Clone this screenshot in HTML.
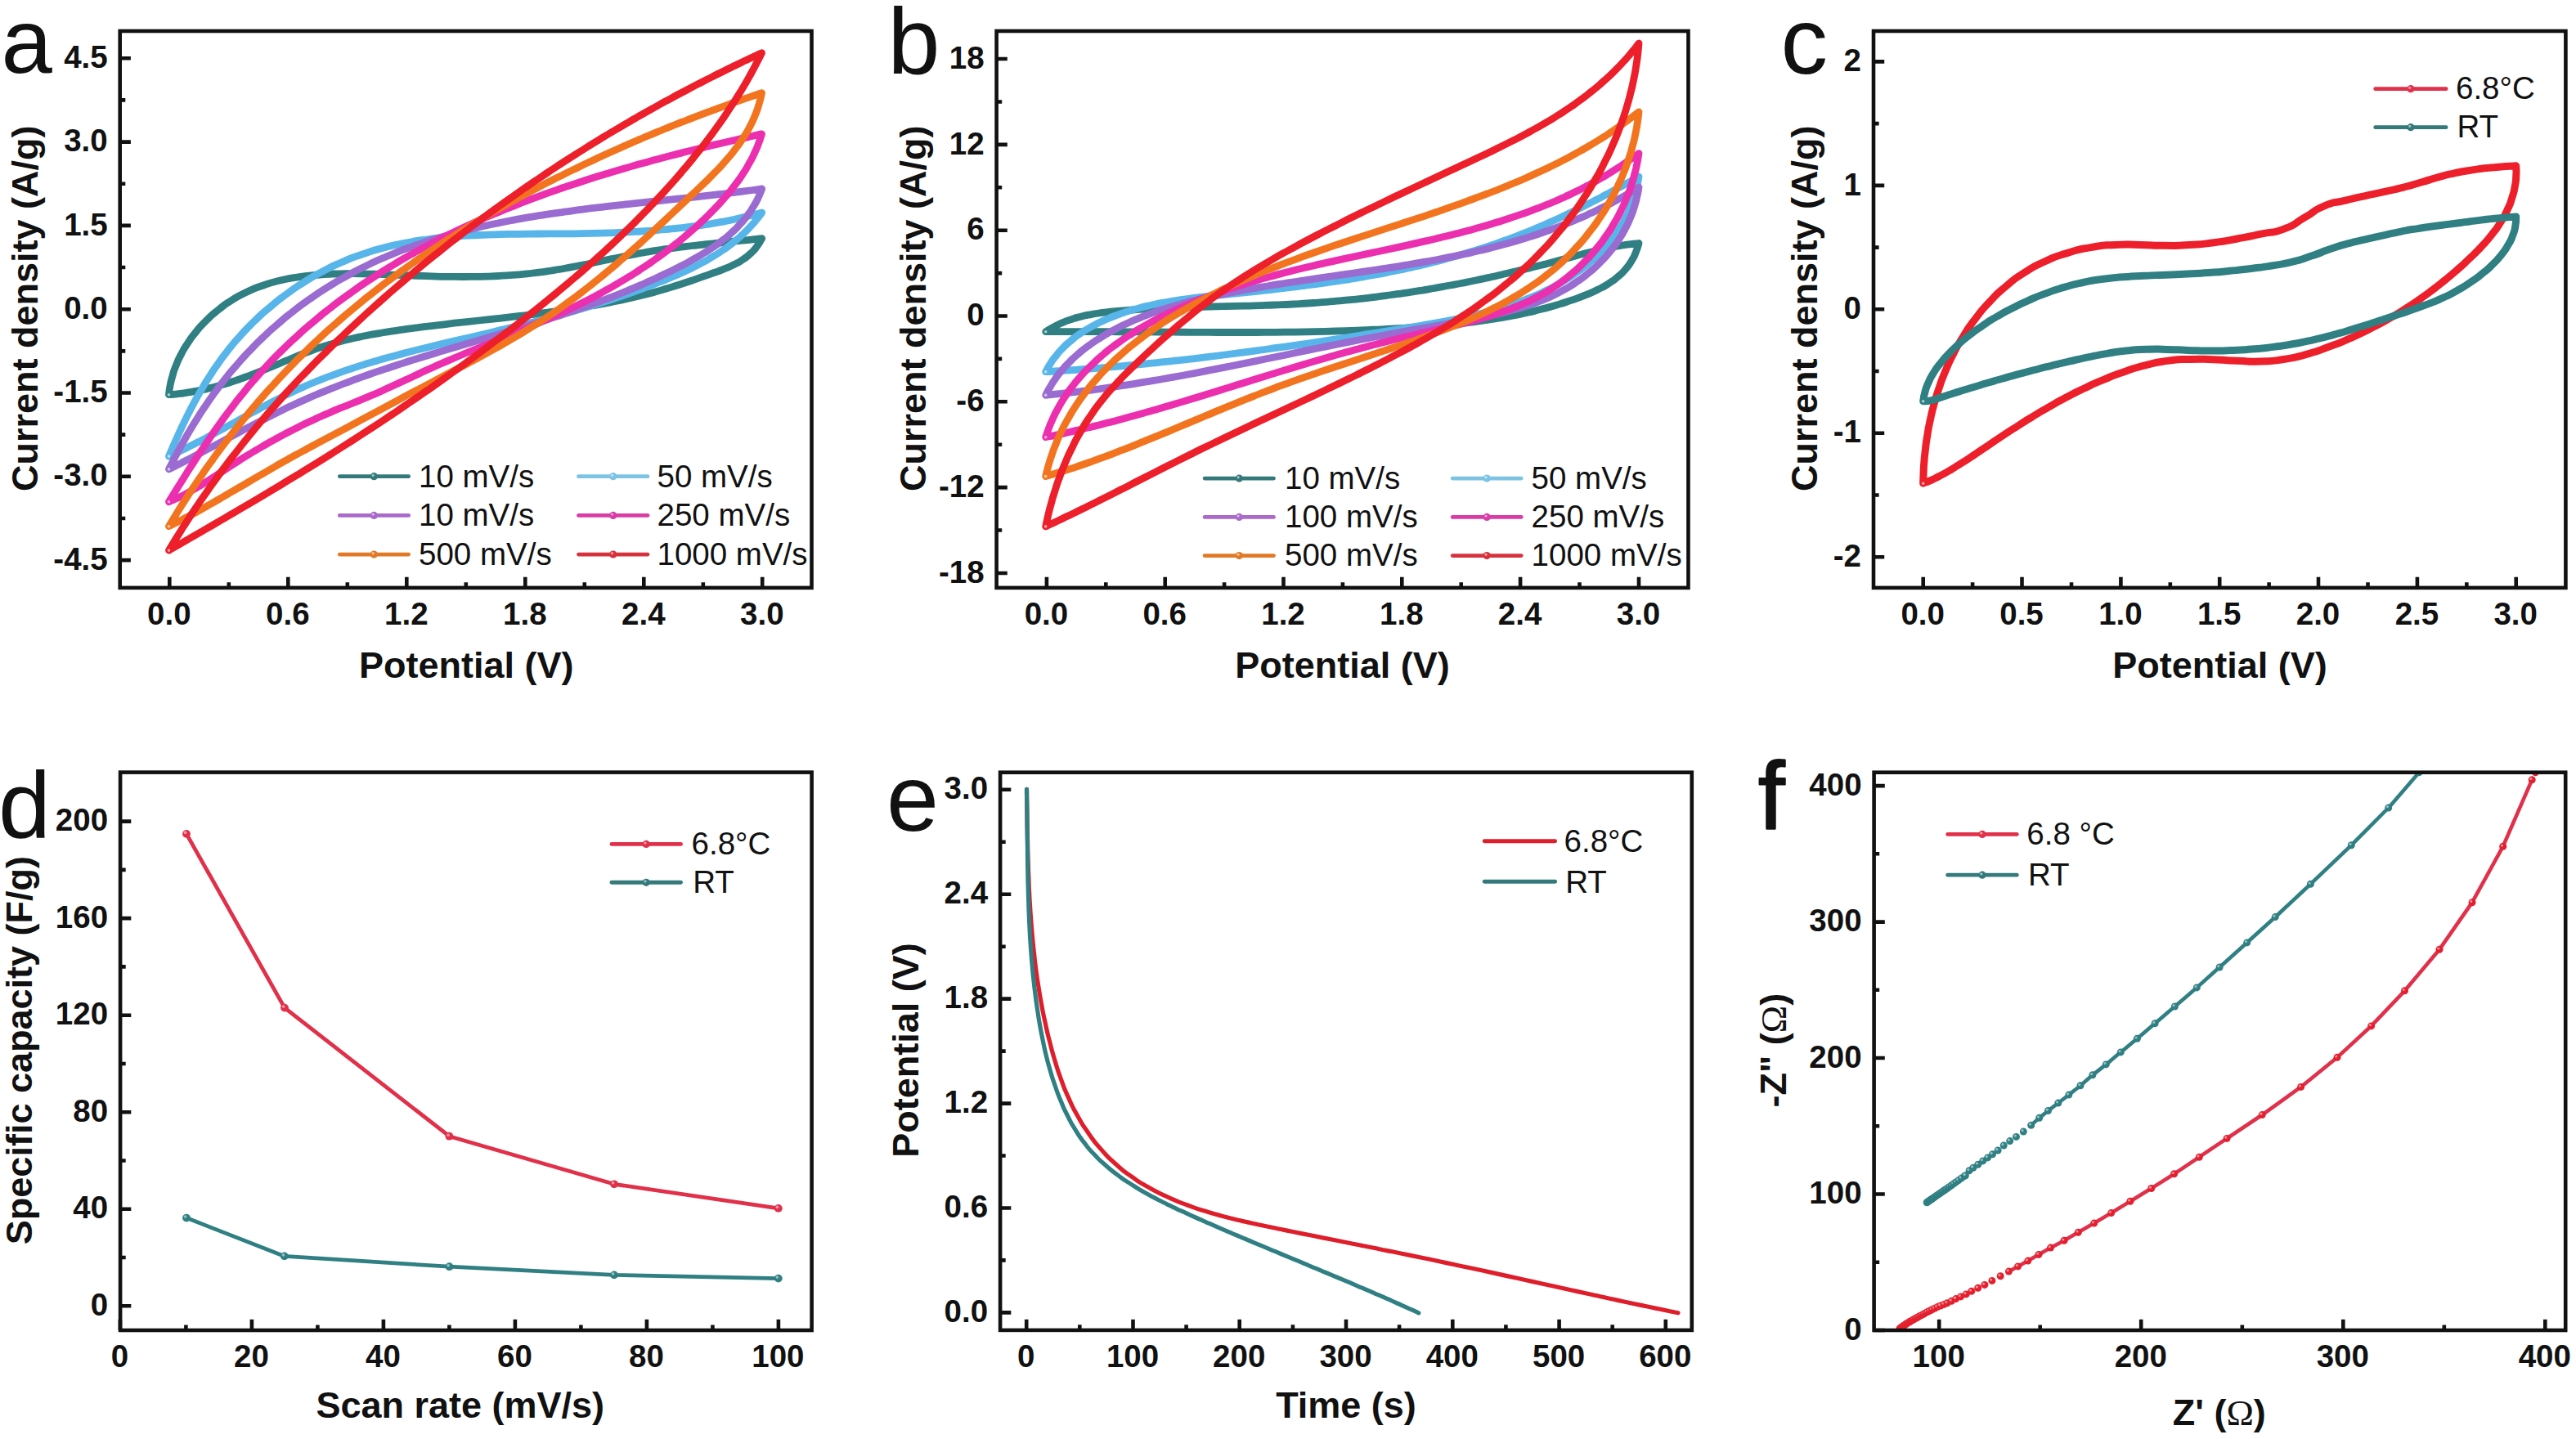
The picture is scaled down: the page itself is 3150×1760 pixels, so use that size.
<!DOCTYPE html>
<html lang="en"><head><meta charset="utf-8"><title>Figure: electrochemical performance (CV, capacity, discharge, EIS)</title><style>html,body{margin:0;padding:0;background:#fff}svg{display:block}</style></head><body>
<svg xmlns="http://www.w3.org/2000/svg" width="3150" height="1760" viewBox="0 0 3150 1760">
<rect width="3150" height="1760" fill="#fff"/>
<g id="panel-a">
<clipPath id="clip-a"><rect x="146.7" y="38" width="845.8" height="680.9"/></clipPath>
<g fill="none" stroke-linejoin="round" stroke-linecap="round" stroke-width="8.8" clip-path="url(#clip-a)">
<path d="M206.5,482.7C207,479.1 206.6,479.4 208,471.8C209.5,464.2 208.5,468.1 210.9,459.9C213.3,451.6 211.7,455.8 215.2,447.1C218.8,438.3 216.6,442.7 221.4,433.6C226.2,424.4 223.4,429 229.6,419.6C235.8,410.3 232.3,414.9 239.9,405.6C247.5,396.4 243.4,400.8 252.4,391.9C261.5,383 256.6,387.1 267.1,378.9C277.5,370.6 272,374.4 283.7,367.1C295.4,359.8 289.3,363.1 302.1,357C314.9,351 308.3,353.7 322.2,349C336,344.2 328.9,346.3 343.7,342.8C358.6,339.4 351,340.8 366.7,338.6C382.5,336.3 374.5,337.2 391,336C407.5,334.7 399.1,335.2 416.2,334.9C433.3,334.5 424.7,334.6 442.3,334.9C459.8,335.1 451,335 468.8,335.6C486.6,336.2 477.8,336 495.6,336.7C513.4,337.4 504.6,337.1 522.3,337.7C540.1,338.2 531.3,338.1 548.9,338.3C566.5,338.6 557.8,338.6 575.2,338.4C592.7,338.3 584,338.5 601.2,337.8C618.4,337.2 609.9,337.7 626.8,336.4C643.8,335.2 635.4,336 652,334C668.6,332.1 660.4,333.2 676.6,330.6C692.8,328.1 684.8,329.3 700.6,326.4C716.4,323.4 708.7,324.8 724,321.7C739.4,318.5 731.8,320 746.7,316.9C761.5,313.9 754.3,315.3 768.6,312.5C782.9,309.7 775.9,310.9 789.6,308.5C803.3,306.2 796.6,307.3 809.7,305.3C822.8,303.4 816.4,304.3 828.9,302.7C841.3,301.1 835.3,301.9 847,300.5C858.7,299.2 853.1,299.8 864.1,298.7C875.1,297.5 869.8,298.1 880,297C890.2,296 885.3,296.5 894.8,295.5C904.2,294.6 899.7,295 908.3,294.1C917,293.2 912.9,293.7 920.6,292.8C928.4,292 928,292 931.7,291.6C929.7,294.8 930.4,295 925.8,301.1C921.3,307.1 923.9,304.3 918.1,309.8C912.3,315.2 915.5,312.6 908.4,317.4C901.3,322.1 905.1,319.8 896.7,324C888.3,328.1 892.7,326 883.2,329.8C873.6,333.6 878.6,331.6 868.1,335.4C857.7,339.1 863.1,337.3 851.8,341.1C840.5,345 846.4,343.1 834.3,347C822.3,350.9 828.5,349 815.7,352.8C802.9,356.6 809.4,354.8 796,358.4C782.5,361.9 789.4,360.2 775.3,363.5C761.2,366.9 768.4,365.3 753.7,368.3C739,371.3 746.5,369.9 731.3,372.6C716.1,375.4 723.8,374.1 708.1,376.6C692.5,379.1 700.4,377.9 684.4,380.2C668.4,382.4 676.4,381.3 660.1,383.4C643.8,385.5 652,384.5 635.5,386.4C619,388.4 627.2,387.4 610.6,389.3C594,391.1 602.3,390.2 585.6,392C569,393.8 577.3,392.9 560.7,394.7C544.1,396.6 552.3,395.6 535.9,397.6C519.5,399.5 527.6,398.5 511.4,400.6C495.2,402.7 503.2,401.6 487.3,403.9C471.5,406.2 479.3,404.9 463.8,407.6C448.3,410.3 455.9,408.7 440.8,411.9C425.7,415.1 433.2,413.3 418.5,417.1C403.9,420.9 411.1,418.8 396.9,423.3C382.7,427.8 389.6,425.5 376,430.6C362.3,435.7 369,433.3 355.8,438.7C342.7,444 349.1,441.5 336.5,446.7C323.9,451.9 330,449.5 318,454.3C306,459.1 311.9,456.9 300.5,461C289.1,465.2 294.6,463.3 283.9,466.8C273.2,470.3 278.3,468.7 268.3,471.5C258.2,474.4 263.1,473.1 253.7,475.4C244.4,477.6 248.9,476.6 240.2,478.3C231.6,480 235.7,479.2 227.8,480.4C220,481.6 223.7,481.1 216.6,481.8C209.5,482.6 209.9,482.4 206.5,482.7Z" stroke="#2f7f83"/>
<path d="M206.5,558.1C208,554.6 207.8,554.9 211,547.5C214.3,540 212.5,543.9 216.3,535.6C220,527.3 218,531.6 222.2,522.6C226.5,513.6 224.2,518.3 229,508.6C233.9,498.9 231.2,503.9 236.7,493.6C242.3,483.4 239.3,488.6 245.6,477.8C251.8,467.1 248.4,472.5 255.6,461.3C262.7,450.2 258.8,455.8 267,444.4C275.1,433 270.7,438.6 279.9,427.1C289.2,415.6 284.2,421.3 294.7,409.8C305.1,398.3 299.6,403.9 311.2,392.7C322.8,381.5 316.8,386.9 329.6,376.1C342.3,365.3 335.7,370.5 349.6,360.3C363.5,350.1 356.3,354.9 371.2,345.5C386.1,336.1 378.5,340.5 394.2,332.1C410,323.8 402,327.6 418.4,320.5C434.9,313.3 426.5,316.6 443.6,310.8C460.6,305 452,307.6 469.5,303C487,298.5 478.2,300.5 496.1,297.1C514,293.7 505,295.2 523.1,292.8C541.3,290.3 532.2,291.4 550.5,289.8C568.8,288.1 559.7,288.9 578,287.9C596.3,286.9 587.2,287.3 605.4,286.8C623.7,286.2 614.7,286.5 632.7,286.3C650.8,286 641.9,286.2 659.6,286C677.4,285.9 668.6,286 686,285.9C703.3,285.7 694.8,285.9 711.7,285.6C728.6,285.3 720.3,285.5 736.6,285.1C752.9,284.6 744.9,284.9 760.5,284.2C776.2,283.5 768.6,283.9 783.5,283C798.3,282 791.1,282.6 805.2,281.4C819.3,280.2 812.5,280.9 825.8,279.5C839,278.1 832.6,278.8 845,277.2C857.4,275.6 851.5,276.4 862.9,274.7C874.4,272.9 868.9,273.8 879.5,271.9C890.1,270 885,270.9 894.6,269C904.3,267 899.7,268 908.4,265.9C917.1,263.9 913,264.9 920.7,262.9C928.5,261 928,261 931.7,260C929.5,262.9 929.9,262.8 925,268.7C920.2,274.6 922.9,271.6 917.1,277.7C911.3,283.8 914.5,280.8 907.8,287C901,293.2 904.7,290.1 896.9,296.3C889.1,302.5 893.3,299.4 884.5,305.5C875.6,311.6 880.3,308.6 870.4,314.6C860.6,320.5 865.7,317.6 854.8,323.3C843.9,329 849.6,326.2 837.7,331.7C825.8,337.2 831.9,334.5 819.2,339.9C806.4,345.2 812.9,342.5 799.4,347.8C785.9,353 792.8,350.4 778.6,355.6C764.4,360.7 771.7,358.2 756.9,363.1C742.1,368.1 749.6,365.7 734.2,370.5C718.9,375.4 726.6,373 710.8,377.7C695,382.4 702.9,380 686.7,384.6C670.5,389.1 678.6,386.9 662.1,391.2C645.5,395.6 653.8,393.4 637,397.7C620.2,401.9 628.6,399.8 611.6,403.9C594.6,408 603.1,406 586.1,410C569.1,414 577.5,411.9 560.5,415.9C543.5,419.9 552,417.9 535.1,421.9C518.2,426 526.6,423.9 509.9,428C493.3,432.2 501.5,430.1 485.1,434.4C468.8,438.8 476.8,436.5 460.9,441.2C444.9,445.8 452.7,443.4 437.2,448.4C421.7,453.4 429.3,450.8 414.3,456.1C399.3,461.4 406.7,458.7 392.3,464.4C377.9,470.1 384.9,467.1 371.1,473.2C357.4,479.2 364.1,476.2 351,482.5C337.9,488.8 344.3,485.7 331.9,492.1C319.5,498.6 325.5,495.4 313.8,501.8C302.1,508.1 307.8,505 296.7,511.1C285.7,517.2 291,514.3 280.7,520C270.3,525.7 275.3,523 265.6,528.2C256,533.5 260.6,531 251.7,535.8C242.7,540.5 247,538.3 238.7,542.5C230.5,546.8 234.4,544.8 226.9,548.5C219.4,552.2 222.9,550.5 216.1,553.7C209.3,556.9 209.7,556.6 206.5,558.1Z" stroke="#57b5ea"/>
<path d="M206.5,573.9C208.3,570.4 208,570.8 211.8,563.4C215.6,556.1 213.6,559.9 217.9,551.8C222.3,543.8 219.9,547.9 224.9,539.2C229.8,530.5 227.2,535 232.7,525.6C238.3,516.2 235.3,521 241.6,511.1C247.9,501.2 244.5,506.3 251.6,495.9C258.6,485.5 254.9,490.8 262.7,480C270.6,469.3 266.4,474.7 275.1,463.7C283.8,452.7 279.2,458.2 288.9,447.1C298.5,435.9 293.4,441.4 304.1,430.3C314.7,419.1 309.1,424.6 320.7,413.5C332.4,402.4 326.3,407.8 338.9,397C351.4,386.1 345,391.4 358.4,380.9C371.9,370.3 365,375.4 379.3,365.4C393.7,355.3 386.3,360.2 401.4,350.7C416.6,341.3 408.9,345.8 424.7,337.1C440.5,328.4 432.4,332.5 448.8,324.6C465.2,316.7 456.9,320.4 473.8,313.3C490.7,306.2 482.2,309.6 499.5,303.2C516.8,296.9 508.1,299.9 525.7,294.3C543.4,288.6 534.5,291.3 552.4,286.4C570.2,281.4 561.3,283.8 579.2,279.5C597.1,275.2 588.2,277.2 606,273.5C623.9,269.7 615.1,271.5 632.8,268.2C650.5,265 641.8,266.5 659.3,263.7C676.8,260.9 668.1,262.2 685.3,259.8C702.4,257.3 694,258.5 710.7,256.3C727.4,254.2 719.2,255.2 735.4,253.3C751.6,251.4 743.7,252.3 759.3,250.6C774.8,248.8 767.2,249.7 782.1,248.1C797,246.5 789.8,247.3 803.9,245.8C818,244.3 811.2,245 824.5,243.6C837.8,242.2 831.4,242.9 843.9,241.6C856.3,240.2 850.3,240.9 861.9,239.6C873.5,238.3 868,238.9 878.7,237.7C889.3,236.4 884.2,237.1 894,235.9C903.8,234.7 899.1,235.2 908,234.1C916.8,233 912.6,233.5 920.5,232.5C928.4,231.4 928,231.4 931.7,230.9C930.3,234.4 930.8,234.2 927.4,241.3C924,248.3 926,244.8 921.6,252.1C917.2,259.4 919.8,255.8 914.2,263.2C908.6,270.6 911.8,266.9 904.9,274.3C898.1,281.7 901.8,278.1 893.7,285.4C885.5,292.7 889.9,289.1 880.4,296.2C871,303.3 876,299.8 865.2,306.7C854.5,313.6 860.1,310.2 848.2,316.9C836.4,323.6 842.5,320.3 829.7,326.9C816.9,333.4 823.4,330.2 809.9,336.6C796.4,343.1 803.3,339.9 789,346.2C774.8,352.5 782,349.4 767.1,355.5C752.2,361.7 759.8,358.6 744.3,364.6C728.8,370.5 736.7,367.6 720.7,373.3C704.7,379.1 712.8,376.3 696.4,381.8C679.9,387.4 688.2,384.6 671.5,390C654.7,395.4 663.1,392.8 646.1,398C629.1,403.3 637.6,400.7 620.5,405.8C603.4,411 611.9,408.4 594.7,413.5C577.6,418.5 586.1,416 569,421C551.9,426.1 560.4,423.5 543.4,428.6C526.4,433.7 534.8,431.1 518,436.3C501.2,441.4 509.5,438.8 493,444.1C476.5,449.4 484.6,446.7 468.5,452.1C452.3,457.5 460.2,454.8 444.5,460.4C428.7,466 436.4,463.2 421.1,469C405.8,474.8 413.3,471.8 398.5,477.9C383.7,483.9 391,480.9 376.7,487.1C362.5,493.4 369.4,490.2 355.8,496.6C342.2,503 348.9,499.9 335.9,506.3C323,512.7 329.2,509.6 317,515.9C304.7,522.2 310.7,519.2 299.1,525.2C287.6,531.3 293.2,528.4 282.4,534.1C271.6,539.9 276.8,537.1 266.8,542.5C256.8,547.8 261.6,545.3 252.3,550.2C243.1,555.1 247.5,552.8 239.1,557.2C230.7,561.6 234.7,559.5 227,563.5C219.4,567.4 223,565.6 216.2,569.1C209.3,572.5 209.7,572.3 206.5,573.9Z" stroke="#9a6bd0"/>
<path d="M206.5,613.8C208.6,610.3 208.4,610.7 212.9,603.4C217.5,596 215.1,599.9 220.1,591.8C225.2,583.7 222.5,587.9 228.1,579C233.7,570.2 230.8,574.8 236.9,565.3C243.1,555.7 239.9,560.6 246.6,550.5C253.3,540.3 249.8,545.5 257.2,534.8C264.5,524 260.7,529.5 268.7,518.3C276.8,507.1 272.6,512.7 281.4,501.1C290.2,489.5 285.5,495.4 295.1,483.5C304.8,471.6 299.7,477.5 310.2,465.4C320.6,453.4 315.2,459.4 326.5,447.2C337.9,435.1 332,441.1 344.3,429C356.6,416.9 350.2,422.9 363.4,410.9C376.6,398.9 369.8,404.8 383.8,393.1C397.8,381.3 390.6,387.1 405.4,375.6C420.1,364.2 412.6,369.8 428,358.8C443.4,347.7 435.6,353.1 451.5,342.5C467.5,332 459.4,337.1 475.8,327C492.3,317 484,321.9 500.8,312.3C517.7,302.8 509.2,307.4 526.4,298.4C543.5,289.4 534.9,293.7 552.3,285.3C569.7,276.8 561,280.9 578.5,273C596,265 587.3,268.9 604.8,261.5C622.3,254.1 613.6,257.6 631,250.8C648.4,243.9 639.8,247.2 657,240.8C674.2,234.5 665.7,237.5 682.7,231.6C699.6,225.7 691.3,228.6 707.8,223.2C724.4,217.7 716.2,220.3 732.3,215.3C748.4,210.3 740.5,212.8 756.1,208.2C771.6,203.6 764,205.8 779,201.6C793.9,197.4 786.6,199.4 800.8,195.6C815.1,191.7 808.2,193.6 821.6,190.1C835.1,186.6 828.6,188.3 841.3,185.1C853.9,181.9 847.8,183.4 859.7,180.5C871.5,177.6 865.8,179 876.8,176.4C887.7,173.8 882.5,175.1 892.5,172.7C902.6,170.4 897.8,171.5 906.9,169.4C916,167.3 911.7,168.3 919.9,166.5C928.1,164.6 927.6,164.8 931.5,163.9C930.3,167.6 930.7,167.3 927.8,174.9C924.9,182.6 926.6,178.6 922.8,186.9C918.9,195.2 921.2,190.9 916.2,199.7C911.3,208.5 914.1,204 908,213.3C901.9,222.5 905.2,217.8 897.9,227.4C890.6,236.9 894.6,232.1 886.1,241.9C877.6,251.7 882,246.8 872.4,256.7C862.8,266.6 867.9,261.7 857.2,271.7C846.6,281.6 852.2,276.7 840.6,286.6C829,296.5 835,291.6 822.4,301.4C809.9,311.2 816.4,306.4 802.9,316C789.4,325.6 796.4,320.9 782,330.3C767.7,339.6 775,335 759.9,344C744.8,353.1 752.5,348.7 736.7,357.3C720.9,366 728.9,361.8 712.5,370.1C696.1,378.4 704.4,374.3 687.5,382.2C670.6,390.1 679.1,386.2 661.9,393.8C644.7,401.3 653.3,397.5 635.8,404.9C618.3,412.2 627.1,408.5 609.5,415.7C591.8,422.9 600.6,419.2 582.9,426.5C565.2,433.8 574,430 556.4,437.5C538.8,445 547.5,441.2 530,449C512.6,456.7 521.2,452.9 504,460.9C486.7,468.8 495.2,465.1 478.4,472.8C461.5,480.4 469.8,476.9 453.3,483.9C436.9,491 444.9,487.4 429,494C413.1,500.6 420.9,497.1 405.5,503.6C390.2,510.2 397.7,506.8 383,513.7C368.2,520.5 375.4,517.1 361.4,524.1C347.3,531.2 354.2,527.6 340.8,534.9C327.4,542.1 333.9,538.5 321.3,545.8C308.6,553.1 314.8,549.5 302.8,556.8C290.9,564.1 296.7,560.6 285.5,567.7C274.4,574.9 279.8,571.5 269.4,578.3C259,585 264,581.9 254.4,587.9C244.8,594 249.4,591.2 240.6,596.4C231.8,601.6 236,599.2 228,603.6C220,607.9 223.8,605.9 216.6,609.3C209.5,612.7 209.9,612.3 206.5,613.8Z" stroke="#ec2fae"/>
<path d="M206.5,643.7C208.7,640.1 208.4,640.5 213,632.9C217.7,625.3 215.2,629.3 220.4,620.9C225.7,612.5 222.9,616.9 228.8,607.8C234.7,598.7 231.6,603.4 238.1,593.6C244.7,583.8 241.2,588.8 248.5,578.4C255.7,568 251.9,573.3 259.9,562.3C267.8,551.3 263.7,556.9 272.3,545.4C281,533.8 276.5,539.7 285.9,527.7C295.3,515.7 290.4,521.8 300.6,509.5C310.8,497.1 305.5,503.3 316.4,490.7C327.4,478.1 321.7,484.4 333.4,471.6C345.1,458.8 339.1,465.2 351.5,452.3C364,439.4 357.6,445.8 370.7,432.8C383.9,419.9 377.2,426.3 391,413.4C404.9,400.6 397.8,406.9 412.3,394.2C426.8,381.5 419.4,387.8 434.5,375.3C449.6,362.8 442,368.9 457.6,356.7C473.2,344.5 465.3,350.5 481.4,338.6C497.5,326.7 489.4,332.5 505.9,321C522.4,309.5 514.1,315.1 530.9,304C547.7,292.8 539.3,298.3 556.3,287.6C573.3,276.9 564.8,282.1 581.9,271.8C599,261.6 590.5,266.6 607.6,256.8C624.8,247 616.3,251.8 633.4,242.4C650.4,233.1 642,237.6 658.9,228.8C675.8,219.9 667.4,224.2 684.1,215.9C700.8,207.5 692.5,211.6 708.9,203.7C725.2,195.9 717.1,199.7 733,192.3C748.9,185 741.1,188.5 756.5,181.7C771.8,174.8 764.3,178.1 779.1,171.8C793.9,165.4 786.7,168.5 800.8,162.6C814.9,156.8 808.1,159.6 821.5,154.2C834.9,148.8 828.4,151.4 841,146.5C853.7,141.5 847.6,143.9 859.4,139.4C871.2,135 865.5,137.1 876.5,133.1C887.4,129 882.2,130.9 892.3,127.3C902.4,123.7 897.5,125.4 906.7,122.2C915.9,119 911.5,120.5 919.8,117.7C928.1,114.8 927.6,115 931.5,113.7C930.5,117.9 930.9,117.7 928.4,126.4C925.8,135.1 927.4,130.7 923.8,139.8C920.1,148.9 922.3,144.3 917.5,153.7C912.6,163.1 915.4,158.3 909.3,167.9C903.1,177.5 906.5,172.7 899.1,182.4C891.6,192.2 895.6,187.3 886.8,197.3C878.1,207.2 882.7,202.2 872.7,212.4C862.8,222.6 867.9,217.4 857,227.9C846.1,238.5 851.6,233 840,244C828.3,255 834.3,249.4 822.1,260.9C809.9,272.3 816.1,266.6 803.4,278.4C790.6,290.2 797.1,284.3 783.8,296.4C770.4,308.5 777.3,302.4 763.3,314.6C749.3,326.8 756.5,320.8 741.8,333C727.2,345.1 734.7,339.2 719.4,351.1C704.1,363.1 711.9,357.3 696,368.9C680.1,380.5 688.1,374.9 671.7,386C655.3,397 663.6,391.6 646.7,402.1C629.8,412.6 638.2,407.5 621,417.5C603.7,427.4 612.4,422.5 594.9,432.1C577.4,441.7 586.1,436.9 568.5,446.3C550.9,455.6 559.6,450.9 542,460.2C524.4,469.5 533.1,464.8 515.7,474.1C498.2,483.3 506.8,478.7 489.6,487.9C472.5,497.1 480.9,492.6 464.1,501.6C447.3,510.6 455.5,506.2 439.2,514.9C422.9,523.7 430.9,519.4 415.1,527.8C399.4,536.2 407,532.1 391.9,540.2C376.8,548.2 384.2,544.2 369.8,552C355.4,559.9 362.4,556 348.6,563.7C334.9,571.4 341.6,567.7 328.5,575.2C315.4,582.7 321.8,579.1 309.4,586.3C297,593.6 303,590.1 291.3,596.9C279.6,603.8 285.3,600.5 274.3,606.8C263.4,613.2 268.7,610.2 258.4,616C248.2,621.8 253.1,619 243.7,624.3C234.2,629.5 238.7,627 230.1,631.6C221.4,636.3 225.5,634.1 217.7,638.1C209.8,642.1 210.2,641.8 206.5,643.7Z" stroke="#f3741f"/>
<path d="M206.5,673.1C208.8,669.3 208.5,669.7 213.3,661.8C218.2,653.9 215.6,658 221.1,649.3C226.6,640.6 223.7,645.1 229.9,635.6C236.1,626.1 232.8,631 239.7,620.8C246.5,610.6 242.9,615.9 250.5,605C258,594.1 254.1,599.7 262.4,588.2C270.7,576.7 266.3,582.6 275.3,570.5C284.4,558.5 279.7,564.6 289.5,552.1C299.3,539.6 294.2,545.9 304.7,533C315.3,520.1 309.8,526.6 321.1,513.3C332.4,500.1 326.6,506.7 338.7,493.2C350.7,479.7 344.5,486.5 357.3,472.8C370.1,459.1 363.6,466 377.1,452.1C390.5,438.3 383.7,445.2 397.8,431.3C411.9,417.4 404.7,424.3 419.4,410.4C434,396.4 426.6,403.4 441.7,389.5C456.9,375.5 449.2,382.5 464.8,368.6C480.4,354.8 472.5,361.7 488.5,348C504.4,334.3 496.4,341.1 512.6,327.7C528.9,314.2 520.7,320.8 537.2,307.7C553.7,294.5 545.4,301 562.1,288.2C578.7,275.3 570.4,281.6 587.1,269.2C603.8,256.7 595.5,262.8 612.2,250.8C628.9,238.8 620.6,244.7 637.3,233.1C653.9,221.5 645.7,227.2 662.2,216.1C678.6,205 670.5,210.4 686.7,199.8C703,189.3 695,194.4 710.9,184.4C726.8,174.3 719,179.2 734.5,169.7C750,160.3 742.4,164.9 757.5,156C772.6,147.1 765.2,151.4 779.7,143C794.2,134.7 787.1,138.7 801.1,131C815,123.2 808.2,127 821.5,119.8C834.7,112.6 828.3,116.1 840.9,109.5C853.4,102.8 847.3,106 859.1,100C870.9,93.9 865.2,96.8 876.2,91.3C887.1,85.8 881.9,88.4 892,83.5C902.1,78.5 897.3,80.9 906.5,76.5C915.7,72 911.3,74.1 919.7,70.2C928,66.3 927.6,66.5 931.5,64.7C929.5,68.6 929.8,68.2 925.5,76.5C921.2,84.8 923.6,80.5 918.6,89.5C913.6,98.5 916.3,93.8 910.6,103.6C904.9,113.3 908,108.3 901.5,118.6C895,129 898.4,123.7 891.1,134.6C883.8,145.6 887.7,140 879.6,151.5C871.4,163 875.7,157.1 866.7,169.1C857.7,181 862.4,175 852.5,187.3C842.6,199.7 847.8,193.5 837,206.2C826.2,219 831.8,212.5 820.2,225.6C808.5,238.6 814.5,232.1 802,245.4C789.6,258.6 796,252 782.7,265.4C769.4,278.8 776.2,272.1 762.2,285.6C748.2,299.1 755.3,292.4 740.7,305.9C726,319.4 733.5,312.7 718.2,326.1C703,339.5 710.7,332.8 695,346.1C679.3,359.4 687.2,352.8 671.1,365.9C655.1,379 663.2,372.5 646.8,385.4C630.4,398.4 638.6,391.9 622,404.7C605.3,417.5 613.6,411.1 596.8,423.7C580,436.3 588.4,430.1 571.5,442.5C554.6,454.8 563,448.7 546.1,460.8C529.2,472.9 537.6,467 520.8,478.7C503.9,490.5 512.3,484.7 495.5,496C478.8,507.4 487.1,501.8 470.6,512.8C454.1,523.8 462.3,518.4 446.1,528.9C429.9,539.5 437.8,534.3 422,544.4C406.2,554.5 414,549.6 398.6,559.2C383.2,568.8 390.8,564.1 375.9,573.3C361,582.4 368.3,578 354,586.6C339.7,595.3 346.7,591.1 333.1,599.3C319.4,607.5 326,603.5 313.1,611.2C300.1,618.9 306.4,615.2 294.2,622.3C282,629.5 287.9,626.1 276.4,632.7C265,639.4 270.5,636.2 259.9,642.4C249.3,648.5 254.4,645.6 244.6,651.2C234.8,656.9 239.5,654.2 230.6,659.3C221.7,664.4 225.9,662 217.9,666.6C209.8,671.2 210.3,670.9 206.5,673.1Z" stroke="#ed1f2a"/>
</g>
<circle cx="206.5" cy="482.7" r="1.8" fill="#fff" fill-opacity="0.6"/>
<circle cx="206.5" cy="558.1" r="1.8" fill="#fff" fill-opacity="0.6"/>
<circle cx="206.5" cy="573.9" r="1.8" fill="#fff" fill-opacity="0.6"/>
<circle cx="206.5" cy="613.8" r="1.8" fill="#fff" fill-opacity="0.6"/>
<circle cx="206.5" cy="643.7" r="1.8" fill="#fff" fill-opacity="0.6"/>
<circle cx="206.5" cy="673.1" r="1.8" fill="#fff" fill-opacity="0.6"/>
<path d="M415.3,582.7 H499.6" stroke="#347a7a" stroke-width="4.8" stroke-linecap="round" fill="none"/>
<circle cx="457.4" cy="582.7" r="4.6" fill="#347a7a"/>
<circle cx="456.2" cy="581.3" r="1.6" fill="#fff" fill-opacity="0.55"/>
<text x="512" y="595.6" font-family="'Liberation Sans', Arial, Helvetica, sans-serif" font-size="38.5" fill="#111">10 mV/s</text>
<path d="M707.5,582.7 H792" stroke="#7dc3e3" stroke-width="4.8" stroke-linecap="round" fill="none"/>
<circle cx="749.8" cy="582.7" r="4.6" fill="#7dc3e3"/>
<circle cx="748.5" cy="581.3" r="1.6" fill="#fff" fill-opacity="0.55"/>
<text x="803.5" y="595.6" font-family="'Liberation Sans', Arial, Helvetica, sans-serif" font-size="38.5" fill="#111">50 mV/s</text>
<path d="M415.3,630.4 H499.6" stroke="#a96aca" stroke-width="4.8" stroke-linecap="round" fill="none"/>
<circle cx="457.4" cy="630.4" r="4.6" fill="#a96aca"/>
<circle cx="456.2" cy="629" r="1.6" fill="#fff" fill-opacity="0.55"/>
<text x="512" y="643.4" font-family="'Liberation Sans', Arial, Helvetica, sans-serif" font-size="38.5" fill="#111">10 mV/s</text>
<path d="M707.5,630.4 H792" stroke="#da3ca6" stroke-width="4.8" stroke-linecap="round" fill="none"/>
<circle cx="749.8" cy="630.4" r="4.6" fill="#da3ca6"/>
<circle cx="748.5" cy="629" r="1.6" fill="#fff" fill-opacity="0.55"/>
<text x="803.5" y="643.4" font-family="'Liberation Sans', Arial, Helvetica, sans-serif" font-size="38.5" fill="#111">250 mV/s</text>
<path d="M415.3,678.1 H499.6" stroke="#e27926" stroke-width="4.8" stroke-linecap="round" fill="none"/>
<circle cx="457.4" cy="678.1" r="4.6" fill="#e27926"/>
<circle cx="456.2" cy="676.7" r="1.6" fill="#fff" fill-opacity="0.55"/>
<text x="512" y="690.9" font-family="'Liberation Sans', Arial, Helvetica, sans-serif" font-size="38.5" fill="#111">500 mV/s</text>
<path d="M707.5,678.1 H792" stroke="#d7323c" stroke-width="4.8" stroke-linecap="round" fill="none"/>
<circle cx="749.8" cy="678.1" r="4.6" fill="#d7323c"/>
<circle cx="748.5" cy="676.7" r="1.6" fill="#fff" fill-opacity="0.55"/>
<text x="803.5" y="690.9" font-family="'Liberation Sans', Arial, Helvetica, sans-serif" font-size="38.5" fill="#111">1000 mV/s</text>
<g stroke="#111" stroke-width="4.6" fill="none" stroke-linecap="butt">
<path d="M207.3,718.9 v-13.2M352.3,718.9 v-13.2M497.3,718.9 v-13.2M642.3,718.9 v-13.2M787.3,718.9 v-13.2M932.2,718.9 v-13.2M279.8,718.9 v-6.6M424.8,718.9 v-6.6M569.8,718.9 v-6.6M714.8,718.9 v-6.6M859.8,718.9 v-6.6M146.7,685.1 h13.2M146.7,582.8 h13.2M146.7,480.5 h13.2M146.7,378.2 h13.2M146.7,275.9 h13.2M146.7,173.6 h13.2M146.7,71.3 h13.2M146.7,634 h6.6M146.7,531.6 h6.6M146.7,429.4 h6.6M146.7,327 h6.6M146.7,224.7 h6.6M146.7,122.4 h6.6"/>
</g>
<rect x="146.7" y="38" width="845.8" height="680.9" fill="none" stroke="#111" stroke-width="4.6"/>
<g font-family="'Liberation Sans', Arial, Helvetica, sans-serif" font-weight="700" font-size="38.5" fill="#111">
<text x="206.8" y="763.5" text-anchor="middle">0.0</text>
<text x="351.8" y="763.5" text-anchor="middle">0.6</text>
<text x="496.8" y="763.5" text-anchor="middle">1.2</text>
<text x="641.8" y="763.5" text-anchor="middle">1.8</text>
<text x="786.8" y="763.5" text-anchor="middle">2.4</text>
<text x="931.8" y="763.5" text-anchor="middle">3.0</text>
<text x="131.7" y="696.7" text-anchor="end">-4.5</text>
<text x="131.7" y="594.4" text-anchor="end">-3.0</text>
<text x="131.7" y="492.1" text-anchor="end">-1.5</text>
<text x="131.7" y="389.8" text-anchor="end">0.0</text>
<text x="131.7" y="287.5" text-anchor="end">1.5</text>
<text x="131.7" y="185.2" text-anchor="end">3.0</text>
<text x="131.7" y="82.9" text-anchor="end">4.5</text>
</g>
<g font-family="'Liberation Sans', Arial, Helvetica, sans-serif" font-weight="700" font-size="45" fill="#111">
<text x="570.3" y="829.4" text-anchor="middle">Potential (V)</text>
<text transform="translate(45.5,377.2) rotate(-90)" text-anchor="middle">Current density (A/g)</text>
</g>
<text x="1.5" y="88.5" font-family="'Liberation Sans', Arial, Helvetica, sans-serif" font-size="112" fill="#111" >a</text>
</g>
<g id="panel-b">
<clipPath id="clip-b"><rect x="1218.6" y="38" width="845.9" height="680.9"/></clipPath>
<g fill="none" stroke-linejoin="round" stroke-linecap="round" stroke-width="8.8" clip-path="url(#clip-b)">
<path d="M1278.7,405.7C1281.7,403.9 1281.3,403.8 1287.6,400.3C1293.9,396.8 1290.5,398.4 1297.7,395.3C1304.9,392.2 1301.1,393.6 1309.1,390.9C1317,388.2 1312.8,389.4 1321.7,387.2C1330.5,385 1325.9,386 1335.5,384.3C1345.2,382.6 1340.2,383.4 1350.7,382.1C1361.2,380.8 1355.7,381.4 1367,380.4C1378.3,379.4 1372.5,379.8 1384.5,379C1396.5,378.1 1390.3,378.5 1403.1,377.8C1415.9,377.1 1409.3,377.4 1422.8,376.8C1436.2,376.2 1429.3,376.5 1443.4,376C1457.4,375.6 1450.3,375.8 1464.9,375.4C1479.5,375 1472.1,375.2 1487.2,374.9C1502.3,374.5 1494.7,374.7 1510.2,374.4C1525.7,374 1517.9,374.3 1533.7,373.8C1549.5,373.4 1541.6,373.6 1557.6,373C1573.6,372.4 1565.6,372.8 1581.7,372C1597.9,371.1 1589.8,371.6 1606,370.5C1622.2,369.4 1614.1,370 1630.3,368.6C1646.5,367.2 1638.4,368 1654.5,366.3C1670.6,364.7 1662.6,365.6 1678.5,363.6C1694.5,361.7 1686.6,362.7 1702.4,360.5C1718.1,358.4 1710.3,359.5 1725.8,357.1C1741.4,354.7 1733.7,356 1748.9,353.4C1764.2,350.8 1756.7,352.1 1771.6,349.3C1786.5,346.6 1779.1,348 1793.7,345.1C1808.2,342.2 1801.1,343.6 1815.1,340.6C1829.2,337.6 1822.3,339.1 1835.9,336C1849.6,332.9 1842.9,334.5 1856,331.3C1869.1,328.2 1862.7,329.8 1875.2,326.6C1887.8,323.4 1881.7,325 1893.6,321.9C1905.6,318.7 1899.8,320.2 1911.1,317.2C1922.4,314.2 1916.9,315.6 1927.6,312.8C1938.2,309.9 1933.1,311.2 1943.1,308.7C1953,306.2 1948.2,307.4 1957.5,305.2C1966.7,303.1 1962.3,304.1 1970.8,302.4C1979.3,300.7 1975.3,301.5 1983,300.2C1990.8,298.9 1987.1,299.5 1994.1,298.6C2001.1,297.7 2000.7,297.9 2004,297.5C2002.8,301.1 2003.4,301.1 2000.5,308.2C1997.6,315.2 1999.4,311.8 1995.3,318.7C1991.1,325.6 1993.6,322.3 1988.1,328.8C1982.6,335.3 1985.7,332.2 1978.7,338.1C1971.8,344.1 1975.6,341.3 1967.2,346.7C1958.8,352 1963.3,349.5 1953.6,354.3C1943.9,359.1 1948.9,356.7 1938.1,361.1C1927.2,365.5 1932.8,363.3 1921,367.4C1909.3,371.4 1915.3,369.5 1902.8,373.3C1890.2,377 1896.7,375.2 1883.3,378.6C1869.9,382 1876.8,380.4 1862.7,383.5C1848.6,386.5 1855.8,385.1 1841,387.7C1826.3,390.4 1833.8,389.2 1818.4,391.4C1803.1,393.7 1810.8,392.6 1795,394.6C1779.2,396.5 1787.1,395.6 1770.9,397.1C1754.7,398.7 1762.8,398 1746.3,399.3C1729.8,400.6 1738,400 1721.4,401C1704.7,402.1 1713,401.6 1696.2,402.4C1679.5,403.3 1687.8,402.9 1671,403.6C1654.3,404.3 1662.6,404 1645.9,404.6C1629.2,405.1 1637.5,404.9 1620.9,405.3C1604.3,405.7 1612.5,405.5 1596.1,405.8C1579.6,406.1 1587.8,406 1571.6,406.2C1555.3,406.4 1563.4,406.3 1547.4,406.4C1531.5,406.5 1539.3,406.5 1523.7,406.5C1508.1,406.5 1515.8,406.5 1500.6,406.5C1485.3,406.5 1492.8,406.5 1478,406.4C1463.2,406.4 1470.5,406.4 1456.2,406.3C1441.9,406.2 1448.9,406.3 1435.1,406.2C1421.3,406.1 1428,406.1 1414.8,406C1401.6,405.9 1408,406 1395.4,405.9C1382.8,405.8 1388.9,405.9 1377,405.8C1365,405.7 1370.8,405.7 1359.6,405.7C1348.3,405.6 1353.8,405.7 1343.2,405.6C1332.7,405.6 1337.8,405.6 1328,405.6C1318.2,405.6 1322.9,405.6 1313.9,405.6C1304.8,405.6 1309.1,405.6 1300.9,405.6C1292.7,405.6 1296.6,405.6 1289.2,405.6C1281.8,405.7 1282.2,405.7 1278.7,405.7Z" stroke="#2f7f83"/>
<path d="M1278.7,454.7C1280.5,451.6 1280,451.7 1284,445.4C1288,439.2 1285.7,442.3 1290.8,435.9C1295.8,429.5 1293,432.6 1299.2,426.2C1305.4,419.9 1302,423 1309.4,416.8C1316.8,410.6 1312.8,413.5 1321.5,407.7C1330.2,401.8 1325.6,404.6 1335.5,399.1C1345.4,393.7 1340.2,396.2 1351.2,391.3C1362.3,386.4 1356.6,388.7 1368.6,384.4C1380.7,380 1374.5,382 1387.5,378.3C1400.5,374.6 1393.8,376.3 1407.7,373.2C1421.5,370.1 1414.4,371.6 1429.1,369C1443.7,366.4 1436.3,367.6 1451.6,365.5C1466.9,363.4 1459.2,364.4 1475.1,362.6C1491,360.8 1483,361.8 1499.3,360.1C1515.7,358.4 1507.5,359.3 1524.1,357.6C1540.7,355.8 1532.4,356.7 1549.2,354.9C1566.1,353 1557.6,354 1574.6,351.9C1591.5,349.9 1583.1,351 1600.1,348.7C1617.1,346.5 1608.6,347.7 1625.6,345.2C1642.6,342.7 1634.1,344 1651,341.3C1667.9,338.6 1659.5,340 1676.2,337C1692.9,334 1684.7,335.6 1701.1,332.3C1717.6,328.9 1709.5,330.7 1725.7,327.1C1741.8,323.5 1733.9,325.3 1749.7,321.4C1765.5,317.5 1757.7,319.5 1773.1,315.3C1788.5,311.1 1781,313.3 1795.9,308.8C1810.8,304.3 1803.5,306.6 1817.9,301.9C1832.3,297.1 1825.2,299.5 1839.1,294.5C1852.9,289.5 1846.2,292.1 1859.4,286.9C1872.6,281.7 1866.1,284.3 1878.7,279C1891.3,273.7 1885.2,276.3 1897.1,271C1908.9,265.7 1903.2,268.3 1914.4,263C1925.5,257.7 1920.1,260.3 1930.6,255.2C1941,250 1936,252.5 1945.7,247.6C1955.4,242.6 1950.7,245 1959.6,240.3C1968.6,235.6 1964.3,237.9 1972.5,233.5C1980.6,229.1 1976.7,231.2 1984.1,227.1C1991.5,223 1988,225 1994.6,221.3C2001.3,217.6 2000.9,217.8 2004,216C2003.3,219.9 2003.6,219.6 2001.8,227.6C1999.9,235.6 2001.1,231.5 1998.4,240.1C1995.8,248.6 1997.4,244.3 1993.8,253.1C1990.1,262 1992.3,257.6 1987.5,266.7C1982.8,275.8 1985.5,271.3 1979.6,280.4C1973.6,289.6 1976.9,285.1 1969.7,294.2C1962.5,303.3 1966.4,298.8 1957.9,307.7C1949.3,316.6 1953.9,312.3 1944,320.8C1934.1,329.3 1939.3,325.2 1928.1,333.2C1916.9,341.2 1922.8,337.4 1910.4,344.7C1897.9,352.1 1904.4,348.6 1890.9,355.3C1877.4,361.9 1884.4,358.8 1869.9,364.6C1855.4,370.5 1862.8,367.7 1847.4,372.9C1832,378.1 1839.8,375.6 1823.6,380.1C1807.4,384.6 1815.6,382.4 1798.8,386.3C1781.9,390.2 1790.4,388.4 1773.1,391.8C1755.8,395.2 1764.4,393.5 1746.8,396.6C1729.1,399.7 1737.9,398.2 1720.1,401.1C1702.3,404 1711.2,402.6 1693.4,405.4C1675.6,408.3 1684.5,406.9 1666.8,409.6C1649.1,412.4 1657.8,411.1 1640.3,413.8C1622.7,416.5 1631.4,415.2 1614.1,417.8C1596.7,420.4 1605.3,419.1 1588.2,421.6C1571.1,424.1 1579.5,422.9 1562.7,425.2C1545.9,427.6 1554.2,426.5 1537.8,428.7C1521.3,430.9 1529.4,429.9 1513.3,431.9C1497.3,434 1505.2,433 1489.6,435C1474,436.9 1481.6,436 1466.5,437.8C1451.5,439.6 1458.8,438.7 1444.3,440.3C1429.7,442 1436.9,441.2 1422.9,442.7C1409,444.2 1415.8,443.5 1402.4,444.8C1389.1,446.1 1395.6,445.5 1383,446.7C1370.3,447.9 1376.5,447.3 1364.5,448.4C1352.6,449.4 1358.4,448.9 1347.2,449.9C1336,450.8 1341.4,450.3 1331,451.1C1320.7,451.9 1325.6,451.6 1316.1,452.3C1306.5,452.9 1311.1,452.6 1302.3,453.2C1293.6,453.8 1297.8,453.5 1289.9,454C1282,454.5 1282.4,454.5 1278.7,454.7Z" stroke="#57b5ea"/>
<path d="M1278.7,483.3C1280.4,480.2 1279.9,480.3 1283.8,473.9C1287.6,467.4 1285.4,470.7 1290.1,463.9C1294.9,457.1 1292.2,460.5 1298,453.6C1303.8,446.6 1300.6,450.1 1307.5,443.1C1314.5,436.1 1310.7,439.5 1318.8,432.6C1326.9,425.7 1322.5,429.1 1331.8,422.4C1341.1,415.7 1336.2,418.9 1346.6,412.5C1357,406 1351.6,409.1 1363,403.1C1374.5,397 1368.5,399.9 1381,394.3C1393.4,388.7 1387,391.3 1400.3,386.2C1413.7,381 1406.8,383.5 1421,378.8C1435.2,374.2 1427.9,376.4 1442.9,372.2C1457.8,368 1450.2,370 1465.8,366.3C1481.5,362.5 1473.6,364.3 1489.7,360.9C1505.9,357.5 1497.7,359.2 1514.3,356.1C1530.8,353 1522.5,354.5 1539.4,351.6C1556.2,348.7 1547.8,350.2 1564.8,347.4C1581.8,344.7 1573.3,346.1 1590.5,343.5C1607.6,340.9 1599.1,342.2 1616.3,339.7C1633.5,337.1 1624.9,338.4 1642.1,335.9C1659.2,333.4 1650.7,334.7 1667.8,332.2C1684.8,329.6 1676.4,330.9 1693.2,328.3C1710.1,325.7 1701.7,327.1 1718.3,324.3C1734.9,321.6 1726.7,323 1743,320.1C1759.2,317.2 1751.2,318.7 1767.1,315.6C1782.9,312.5 1775.1,314.1 1790.5,310.8C1805.8,307.4 1798.3,309.2 1813.1,305.6C1828,302 1820.7,303.9 1834.9,300.1C1849.2,296.2 1842.2,298.2 1855.8,294.2C1869.4,290.1 1862.8,292.2 1875.7,288C1888.7,283.7 1882.4,285.9 1894.6,281.5C1906.8,277.1 1900.9,279.3 1912.4,274.8C1923.9,270.3 1918.3,272.5 1929,268C1939.7,263.4 1934.6,265.7 1944.5,261.1C1954.4,256.5 1949.7,258.8 1958.8,254.2C1967.9,249.7 1963.6,251.9 1971.9,247.5C1980.2,243.1 1976.3,245.2 1983.8,241C1991.3,236.7 1987.8,238.8 1994.5,234.8C2001.2,230.8 2000.8,230.9 2004,229C2003.3,232.8 2003.7,232.5 2001.8,240.5C2000,248.4 2001.2,244.4 1998.5,252.8C1995.9,261.3 1997.5,257 1993.8,265.9C1990.2,274.7 1992.3,270.3 1987.5,279.4C1982.7,288.5 1985.5,284 1979.4,293.2C1973.4,302.3 1976.8,297.8 1969.4,306.9C1962,316 1966.1,311.6 1957.3,320.4C1948.6,329.3 1953.3,325.1 1943.1,333.4C1933,341.7 1938.4,337.8 1926.9,345.5C1915.5,353.1 1921.5,349.6 1908.8,356.4C1896.1,363.2 1902.7,360 1889,365.9C1875.2,371.7 1882.3,369 1867.6,373.8C1852.8,378.7 1860.4,376.4 1844.8,380.5C1829.1,384.7 1837.1,382.6 1820.7,386.3C1804.3,389.9 1812.6,388.1 1795.6,391.4C1778.6,394.7 1787.1,393.1 1769.7,396.2C1752.2,399.4 1760.9,397.8 1743.2,400.9C1725.5,404 1734.3,402.4 1716.5,405.6C1698.7,408.8 1707.6,407.2 1689.8,410.5C1672.1,413.8 1680.9,412.1 1663.3,415.5C1645.7,419 1654.5,417.3 1637,420.7C1619.6,424.2 1628.2,422.5 1611,426C1593.8,429.5 1602.3,427.8 1585.4,431.3C1568.5,434.8 1576.9,433.1 1560.2,436.5C1543.6,439.9 1551.8,438.2 1535.6,441.6C1519.3,444.9 1527.3,443.3 1511.5,446.5C1495.6,449.6 1503.4,448.1 1488,451.1C1472.6,454.2 1480.2,452.7 1465.3,455.6C1450.3,458.4 1457.6,457 1443.3,459.7C1428.9,462.3 1435.9,461 1422.1,463.5C1408.3,465.9 1415,464.7 1401.9,466.9C1388.7,469.1 1395.1,468.1 1382.6,470.1C1370,472.1 1376.1,471.1 1364.3,472.9C1352.4,474.6 1358.2,473.8 1347.1,475.3C1336,476.9 1341.3,476.1 1331,477.5C1320.6,478.8 1325.6,478.2 1316,479.3C1306.5,480.5 1311.1,479.9 1302.3,480.9C1293.6,481.9 1297.8,481.4 1289.9,482.2C1282,483 1282.4,482.9 1278.7,483.3Z" stroke="#9a6bd0"/>
<path d="M1278.7,534.7C1280,531 1279.6,531.3 1282.5,523.7C1285.5,516.1 1283.7,520 1287.5,511.9C1291.2,503.8 1289.1,507.9 1293.8,499.4C1298.5,490.9 1295.8,495.2 1301.6,486.4C1307.3,477.7 1304.1,482.1 1310.9,473.1C1317.8,464.2 1314.1,468.7 1322.1,459.7C1330.1,450.7 1325.8,455.2 1335,446.3C1344.2,437.4 1339.3,441.8 1349.7,433C1360.1,424.3 1354.6,428.6 1366.2,420.1C1377.8,411.7 1371.8,415.8 1384.5,407.7C1397.2,399.6 1390.6,403.6 1404.4,395.9C1418.2,388.2 1411.1,391.9 1425.9,384.7C1440.6,377.5 1433.1,380.9 1448.7,374.2C1464.2,367.5 1456.3,370.7 1472.5,364.5C1488.7,358.2 1480.6,361.3 1497.3,355.5C1514,349.7 1505.5,352.5 1522.7,347.2C1539.8,341.9 1531.2,344.5 1548.7,339.6C1566.1,334.7 1557.4,337.1 1575.1,332.6C1592.8,328 1583.9,330.3 1601.7,326C1619.6,321.8 1610.7,323.9 1628.6,319.9C1646.4,315.9 1637.6,317.9 1655.4,314C1673.2,310.1 1664.4,312.1 1682,308.3C1699.7,304.5 1691,306.4 1708.4,302.6C1725.8,298.8 1717.2,300.8 1734.3,296.9C1751.3,293 1742.9,295 1759.6,291C1776.2,287 1768,289.1 1784.2,284.9C1800.3,280.7 1792.4,282.9 1807.9,278.5C1823.5,274.1 1815.9,276.4 1830.8,271.8C1845.6,267.2 1838.4,269.5 1852.6,264.7C1866.7,259.9 1859.9,262.4 1873.3,257.3C1886.7,252.3 1880.2,254.9 1892.8,249.7C1905.5,244.5 1899.4,247.1 1911.2,241.8C1923,236.5 1917.3,239.1 1928.3,233.7C1939.2,228.3 1934,231 1944.1,225.6C1954.2,220.2 1949.4,222.8 1958.6,217.5C1967.9,212.1 1963.5,214.8 1971.9,209.5C1980.3,204.3 1976.3,206.8 1983.8,201.8C1991.4,196.8 1987.8,199.2 1994.5,194.5C2001.3,189.7 2000.8,189.9 2004,187.6C2003.3,191.5 2003.6,191.1 2002,199.3C2000.3,207.5 2001.4,203.3 1999,212.2C1996.7,221.2 1998.1,216.6 1994.9,226.2C1991.8,235.8 1993.6,230.9 1989.5,241.1C1985.4,251.2 1987.8,246.1 1982.6,256.7C1977.4,267.2 1980.3,262 1974,272.8C1967.6,283.6 1971.1,278.2 1963.5,289.1C1955.9,299.9 1960.1,294.6 1951.1,305.3C1942.2,316 1947,310.9 1936.7,321.1C1926.4,331.4 1931.9,326.5 1920.3,336.1C1908.6,345.7 1914.8,341.3 1901.8,349.9C1888.9,358.6 1895.6,354.5 1881.4,362.1C1867.2,369.7 1874.6,366.1 1859.2,372.7C1843.9,379.3 1851.7,376.2 1835.4,381.9C1819,387.6 1827.4,384.9 1810.2,389.9C1793,394.9 1801.7,392.4 1783.8,396.9C1766,401.4 1775,399.2 1756.7,403.4C1738.5,407.7 1747.6,405.4 1729.2,409.7C1710.8,414 1719.9,411.7 1701.5,416.2C1683.1,420.8 1692.3,418.4 1674,423.2C1655.8,428 1664.8,425.6 1646.8,430.6C1628.7,435.6 1637.7,433.1 1619.8,438.2C1602,443.4 1610.9,440.8 1593.3,446C1575.8,451.3 1584.5,448.7 1567.3,453.9C1550.1,459.2 1558.6,456.6 1541.8,461.8C1525,466.9 1533.3,464.4 1517,469.5C1500.6,474.5 1508.6,472.1 1492.8,477C1476.9,481.9 1484.7,479.5 1469.4,484.2C1454,488.9 1461.5,486.6 1446.7,491.1C1432,495.5 1439.2,493.4 1425,497.5C1410.9,501.7 1417.8,499.7 1404.3,503.5C1390.8,507.4 1397.3,505.6 1384.5,509.1C1371.7,512.6 1377.9,510.9 1365.8,514.2C1353.7,517.4 1359.6,515.8 1348.2,518.7C1336.9,521.6 1342.4,520.3 1331.8,522.8C1321.3,525.4 1326.4,524.2 1316.6,526.4C1306.9,528.7 1311.6,527.6 1302.7,529.6C1293.8,531.6 1298.1,530.7 1290.1,532.4C1282,534.1 1282.5,533.9 1278.7,534.7Z" stroke="#ec2fae"/>
<path d="M1278.7,582.6C1279.7,578.5 1279.4,578.8 1281.8,570.3C1284.3,561.7 1282.8,566.1 1286,556.9C1289.1,547.7 1287.3,552.4 1291.3,542.7C1295.2,532.9 1293,537.9 1297.9,527.7C1302.8,517.5 1300,522.6 1306,512.2C1311.9,501.7 1308.7,506.9 1315.7,496.2C1322.8,485.6 1318.9,490.9 1327.2,480.1C1335.4,469.4 1331,474.7 1340.4,464C1349.9,453.2 1344.8,458.5 1355.5,447.9C1366.2,437.3 1360.6,442.5 1372.5,432.1C1384.3,421.8 1378.1,426.8 1391.2,416.8C1404.2,406.7 1397.5,411.6 1411.6,401.9C1425.7,392.2 1418.4,396.9 1433.5,387.6C1448.6,378.4 1440.9,382.9 1456.7,374.1C1472.6,365.2 1464.5,369.5 1481.1,361.2C1497.6,352.8 1489.2,356.9 1506.3,349C1523.5,341.1 1514.8,344.9 1532.4,337.5C1550.1,330 1541.2,333.7 1559.2,326.6C1577.2,319.5 1568.2,323 1586.5,316.3C1604.7,309.6 1595.6,312.9 1614,306.5C1632.5,300 1623.3,303.2 1641.7,297C1660.2,290.8 1651,293.9 1669.4,287.9C1687.8,281.8 1678.7,284.8 1696.9,278.9C1715,273 1706.1,276 1723.9,270.1C1741.8,264.2 1733,267.2 1750.4,261.3C1767.8,255.4 1759.3,258.4 1776.2,252.4C1793.1,246.5 1784.8,249.5 1801.1,243.5C1817.4,237.5 1809.4,240.5 1825,234.5C1840.6,228.4 1833,231.5 1847.9,225.3C1862.7,219.2 1855.5,222.3 1869.5,216C1883.5,209.8 1876.7,212.9 1889.9,206.7C1903,200.4 1896.7,203.5 1908.9,197.3C1921.2,191 1915.3,194.1 1926.6,187.9C1937.9,181.6 1932.5,184.7 1942.9,178.6C1953.3,172.4 1948.4,175.4 1957.9,169.5C1967.3,163.5 1962.8,166.4 1971.4,160.7C1980,154.9 1975.9,157.7 1983.6,152.2C1991.3,146.8 1987.6,149.4 1994.4,144.3C2001.2,139.2 2000.8,139.4 2004,136.9C2003.5,141 2003.8,140.6 2002.4,149.3C2001.1,158 2002,153.4 2000,163C1998,172.5 1999.3,167.6 1996.5,177.9C1993.8,188.2 1995.4,182.9 1991.8,193.9C1988.1,204.9 1990.3,199.3 1985.6,210.9C1981,222.4 1983.6,216.6 1977.8,228.6C1972.1,240.6 1975.3,234.6 1968.3,246.9C1961.3,259.2 1965.1,253.1 1956.9,265.4C1948.6,277.8 1953.1,271.7 1943.4,284C1933.8,296.3 1939,290.3 1928,302.3C1917.1,314.2 1922.9,308.5 1910.6,319.9C1898.3,331.3 1904.7,325.8 1891.1,336.5C1877.6,347.1 1884.6,342 1869.8,351.9C1855.1,361.7 1862.7,357 1846.8,366C1831,375.1 1839.1,370.7 1822.3,379C1805.5,387.3 1814,383.3 1796.4,390.9C1778.8,398.5 1787.7,394.8 1769.5,401.9C1751.4,409 1760.5,405.5 1742,412.1C1723.4,418.7 1732.7,415.4 1714,421.8C1695.3,428.1 1704.6,425 1686,431.2C1667.3,437.3 1676.6,434.2 1658,440.4C1639.4,446.5 1648.6,443.4 1630.2,449.5C1611.8,455.7 1620.9,452.5 1602.7,458.8C1584.6,465.1 1593.6,461.9 1575.7,468.3C1557.8,474.8 1566.6,471.5 1549.2,478.2C1531.7,484.9 1540.3,481.6 1523.2,488.4C1506.2,495.2 1514.6,491.9 1498,498.6C1481.5,505.4 1489.6,502.1 1473.7,508.8C1457.7,515.5 1465.5,512.2 1450.2,518.6C1434.8,525.1 1442.3,522 1427.7,528.1C1413,534.1 1420.1,531.2 1406.2,536.9C1392.3,542.6 1399,539.9 1385.9,545.1C1372.7,550.4 1379.1,547.9 1366.7,552.6C1354.3,557.4 1360.3,555.2 1348.8,559.4C1337.2,563.7 1342.8,561.7 1332.1,565.5C1321.4,569.2 1326.5,567.5 1316.7,570.8C1306.9,574.1 1311.6,572.5 1302.7,575.4C1293.8,578.2 1298,576.9 1290,579.3C1282,581.7 1282.5,581.5 1278.7,582.6Z" stroke="#f3741f"/>
<path d="M1278.7,643.9C1279.6,639.6 1279.4,640.1 1281.5,631C1283.7,622 1282.4,626.7 1285.2,616.7C1287.9,606.7 1286.3,611.9 1289.8,601C1293.2,590.2 1291.2,595.7 1295.5,584.1C1299.8,572.4 1297.3,578.4 1302.6,566.1C1307.8,553.8 1304.8,560 1311.2,547.2C1317.5,534.4 1313.9,540.8 1321.5,527.7C1329.1,514.7 1324.9,521.1 1333.9,508C1342.9,494.8 1338,501.3 1348.5,488.3C1359,475.3 1353.5,481.8 1365.4,468.9C1377.3,456.1 1371.2,462.6 1384.3,449.7C1397.3,436.9 1390.7,443.4 1404.6,430.4C1418.6,417.5 1411.4,423.9 1426.1,410.9C1440.8,397.9 1433.3,404.2 1448.7,391.4C1464.1,378.6 1456.2,384.8 1472.3,372.5C1488.5,360.1 1480.3,366.1 1497.1,354.4C1514,342.7 1505.4,348.4 1522.9,337.3C1540.4,326.1 1531.6,331.6 1549.6,321C1567.6,310.4 1558.5,315.6 1576.9,305.5C1595.4,295.3 1586.1,300.3 1604.8,290.5C1623.5,280.7 1614.2,285.5 1633.1,276C1651.9,266.4 1642.5,271.1 1661.5,261.8C1680.4,252.6 1671,257.1 1689.8,248.1C1708.6,239.1 1699.3,243.5 1717.9,234.7C1736.5,225.9 1727.3,230.3 1745.6,221.7C1763.9,213.2 1754.9,217.4 1772.7,209.1C1790.5,200.7 1781.8,204.9 1799.1,196.7C1816.3,188.6 1807.9,192.7 1824.5,184.7C1841,176.6 1833,180.7 1848.7,172.7C1864.3,164.7 1856.8,168.7 1871.5,160.6C1886.2,152.6 1879.1,156.6 1892.8,148.5C1906.5,140.3 1899.9,144.4 1912.5,136.2C1925.1,127.9 1919.1,132.1 1930.5,123.8C1941.9,115.5 1936.5,119.6 1946.8,111.3C1957.1,103.1 1952.2,107.1 1961.4,98.9C1970.6,90.8 1966.2,94.8 1974.3,86.8C1982.4,78.8 1978.6,82.7 1985.7,74.9C1992.8,67.2 1989.4,70.9 1995.6,63.6C2001.7,56.3 2001.2,56.5 2004,53C2003.6,57.5 2003.8,57 2002.7,66.4C2001.5,75.8 2002.3,70.9 2000.6,81.3C1998.9,91.7 2000,86.3 1997.6,97.6C1995.3,108.9 1996.7,103.1 1993.5,115.3C1990.4,127.5 1992.2,121.2 1988.2,134.2C1984.1,147.2 1986.4,140.6 1981.4,154.3C1976.3,167.9 1979.1,161 1973,175.3C1966.8,189.5 1970.2,182.3 1962.8,197C1955.5,211.7 1959.5,204.3 1950.9,219.3C1942.3,234.3 1946.9,226.8 1937,241.9C1927.2,257 1932.4,249.5 1921.2,264.5C1910.1,279.5 1916,272.1 1903.5,286.8C1891.1,301.6 1897.6,294.4 1883.9,308.6C1870.2,322.9 1877.3,315.9 1862.5,329.5C1847.7,343.1 1855.3,336.5 1839.4,349.4C1823.5,362.4 1831.7,356.1 1814.8,368.3C1798,380.6 1806.5,374.6 1788.9,386.2C1771.2,397.8 1780.2,392.2 1761.9,403.2C1743.6,414.2 1752.8,408.8 1734,419.3C1715.3,429.8 1724.7,424.6 1705.6,434.7C1686.6,444.8 1696.1,439.8 1676.9,449.5C1657.8,459.2 1667.3,454.4 1648.2,463.8C1629.1,473.2 1638.6,468.5 1619.6,477.6C1600.6,486.7 1610,482.2 1591.3,491.1C1572.6,500 1581.8,495.6 1563.4,504.3C1545,512.9 1554.1,508.6 1536.1,517.1C1518.2,525.6 1527,521.4 1509.5,529.7C1492.1,538 1500.6,533.9 1483.7,542.1C1466.9,550.3 1475.1,546.2 1458.9,554.2C1442.7,562.2 1450.6,558.3 1435.1,566.1C1419.6,573.9 1427.1,570.1 1412.4,577.6C1397.7,585 1404.8,581.4 1390.9,588.5C1377,595.6 1383.8,592.2 1370.7,598.8C1357.7,605.4 1364,602.2 1351.9,608.4C1339.8,614.5 1345.6,611.5 1334.4,617.1C1323.2,622.7 1328.6,620 1318.3,625C1308.1,630.1 1313,627.7 1303.7,632.1C1294.4,636.6 1298.8,634.5 1290.5,638.4C1282.1,642.3 1282.6,642.1 1278.7,643.9Z" stroke="#ed1f2a"/>
</g>
<circle cx="1278.7" cy="405.7" r="1.8" fill="#fff" fill-opacity="0.6"/>
<circle cx="1278.7" cy="454.7" r="1.8" fill="#fff" fill-opacity="0.6"/>
<circle cx="1278.7" cy="483.3" r="1.8" fill="#fff" fill-opacity="0.6"/>
<circle cx="1278.7" cy="534.7" r="1.8" fill="#fff" fill-opacity="0.6"/>
<circle cx="1278.7" cy="582.6" r="1.8" fill="#fff" fill-opacity="0.6"/>
<circle cx="1278.7" cy="643.9" r="1.8" fill="#fff" fill-opacity="0.6"/>
<path d="M1473.1,585.1 H1557.5" stroke="#347a7a" stroke-width="4.8" stroke-linecap="round" fill="none"/>
<circle cx="1515.3" cy="585.1" r="4.6" fill="#347a7a"/>
<circle cx="1514.1" cy="583.7" r="1.6" fill="#fff" fill-opacity="0.55"/>
<text x="1571" y="598.1" font-family="'Liberation Sans', Arial, Helvetica, sans-serif" font-size="38.5" fill="#111">10 mV/s</text>
<path d="M1776.2,585.1 H1860.2" stroke="#7dc3e3" stroke-width="4.8" stroke-linecap="round" fill="none"/>
<circle cx="1818.2" cy="585.1" r="4.6" fill="#7dc3e3"/>
<circle cx="1817" cy="583.7" r="1.6" fill="#fff" fill-opacity="0.55"/>
<text x="1872.6" y="598.1" font-family="'Liberation Sans', Arial, Helvetica, sans-serif" font-size="38.5" fill="#111">50 mV/s</text>
<path d="M1473.1,632.4 H1557.5" stroke="#a96aca" stroke-width="4.8" stroke-linecap="round" fill="none"/>
<circle cx="1515.3" cy="632.4" r="4.6" fill="#a96aca"/>
<circle cx="1514.1" cy="631" r="1.6" fill="#fff" fill-opacity="0.55"/>
<text x="1571" y="645.4" font-family="'Liberation Sans', Arial, Helvetica, sans-serif" font-size="38.5" fill="#111">100 mV/s</text>
<path d="M1776.2,632.4 H1860.2" stroke="#da3ca6" stroke-width="4.8" stroke-linecap="round" fill="none"/>
<circle cx="1818.2" cy="632.4" r="4.6" fill="#da3ca6"/>
<circle cx="1817" cy="631" r="1.6" fill="#fff" fill-opacity="0.55"/>
<text x="1872.6" y="645.4" font-family="'Liberation Sans', Arial, Helvetica, sans-serif" font-size="38.5" fill="#111">250 mV/s</text>
<path d="M1473.1,679.6 H1557.5" stroke="#e27926" stroke-width="4.8" stroke-linecap="round" fill="none"/>
<circle cx="1515.3" cy="679.6" r="4.6" fill="#e27926"/>
<circle cx="1514.1" cy="678.2" r="1.6" fill="#fff" fill-opacity="0.55"/>
<text x="1571" y="692.4" font-family="'Liberation Sans', Arial, Helvetica, sans-serif" font-size="38.5" fill="#111">500 mV/s</text>
<path d="M1776.2,679.6 H1860.2" stroke="#d7323c" stroke-width="4.8" stroke-linecap="round" fill="none"/>
<circle cx="1818.2" cy="679.6" r="4.6" fill="#d7323c"/>
<circle cx="1817" cy="678.2" r="1.6" fill="#fff" fill-opacity="0.55"/>
<text x="1872.6" y="692.4" font-family="'Liberation Sans', Arial, Helvetica, sans-serif" font-size="38.5" fill="#111">1000 mV/s</text>
<g stroke="#111" stroke-width="4.6" fill="none" stroke-linecap="butt">
<path d="M1279.9,718.9 v-13.2M1424.7,718.9 v-13.2M1569.5,718.9 v-13.2M1714.3,718.9 v-13.2M1859.1,718.9 v-13.2M2004,718.9 v-13.2M1352.3,718.9 v-6.6M1497.1,718.9 v-6.6M1641.9,718.9 v-6.6M1786.7,718.9 v-6.6M1931.5,718.9 v-6.6M1218.6,701 h13.2M1218.6,596.1 h13.2M1218.6,491.3 h13.2M1218.6,386.5 h13.2M1218.6,281.7 h13.2M1218.6,176.9 h13.2M1218.6,72 h13.2M1218.6,648.5 h6.6M1218.6,543.7 h6.6M1218.6,438.9 h6.6M1218.6,334.1 h6.6M1218.6,229.3 h6.6M1218.6,124.5 h6.6"/>
</g>
<rect x="1218.6" y="38" width="845.9" height="680.9" fill="none" stroke="#111" stroke-width="4.6"/>
<g font-family="'Liberation Sans', Arial, Helvetica, sans-serif" font-weight="700" font-size="38.5" fill="#111">
<text x="1279.4" y="763.5" text-anchor="middle">0.0</text>
<text x="1424.2" y="763.5" text-anchor="middle">0.6</text>
<text x="1569" y="763.5" text-anchor="middle">1.2</text>
<text x="1713.8" y="763.5" text-anchor="middle">1.8</text>
<text x="1858.6" y="763.5" text-anchor="middle">2.4</text>
<text x="2003.5" y="763.5" text-anchor="middle">3.0</text>
<text x="1203.6" y="712.6" text-anchor="end">-18</text>
<text x="1203.6" y="607.7" text-anchor="end">-12</text>
<text x="1203.6" y="502.9" text-anchor="end">-6</text>
<text x="1203.6" y="398.1" text-anchor="end">0</text>
<text x="1203.6" y="293.3" text-anchor="end">6</text>
<text x="1203.6" y="188.5" text-anchor="end">12</text>
<text x="1203.6" y="83.6" text-anchor="end">18</text>
</g>
<g font-family="'Liberation Sans', Arial, Helvetica, sans-serif" font-weight="700" font-size="45" fill="#111">
<text x="1641.5" y="829.4" text-anchor="middle">Potential (V)</text>
<text transform="translate(1131.7,377.2) rotate(-90)" text-anchor="middle">Current density (A/g)</text>
</g>
<text x="1085.5" y="89.5" font-family="'Liberation Sans', Arial, Helvetica, sans-serif" font-size="115" fill="#111" >b</text>
</g>
<g id="panel-c">
<clipPath id="clip-c"><rect x="2291" y="38" width="846.4" height="680.9"/></clipPath>
<g fill="none" stroke-linejoin="round" stroke-linecap="round" stroke-width="9" clip-path="url(#clip-c)">
<path d="M2351.7,591.2C2351.8,587 2351.7,587.5 2352.1,578.7C2352.5,569.8 2352.1,574.5 2352.9,564.6C2353.7,554.8 2353.2,560 2354.5,549.2C2355.7,538.4 2354.9,544 2356.8,532.4C2358.7,520.8 2357.5,526.7 2360.2,514.3C2362.9,501.9 2361.2,508.2 2364.8,495.1C2368.4,482 2366.3,488.7 2371,475C2375.6,461.3 2372.9,468.2 2378.8,454.1C2384.7,440.1 2381.3,447.1 2388.7,432.8C2396,418.5 2391.9,425.6 2400.8,411.3C2409.7,397 2404.8,403.9 2415.4,390C2426,376.1 2420.2,382.7 2432.5,369.6C2444.9,356.4 2438.2,362.5 2452.4,350.6C2466.5,338.7 2459,344 2474.9,333.8C2490.8,323.6 2482.5,328.1 2500,320C2517.6,311.9 2508.7,315.3 2527.5,309.6C2546.4,303.8 2536.9,306 2556.6,302.6C2576.4,299.2 2566.6,300.4 2586.7,299.4C2606.7,298.3 2596.8,299.1 2616.9,299.4C2637,299.7 2626.9,300.2 2647,300.3C2667.1,300.3 2657,300.8 2677.1,299.6C2697.2,298.4 2687.2,299.4 2707.2,296.7C2727.2,294.1 2717.5,295.3 2737.1,291.7C2756.7,288.1 2747.3,289.9 2766.1,285.9C2784.9,282 2776.1,286.5 2793.4,279.9C2810.7,273.3 2801.8,275.5 2817.9,266.2C2834,257 2825.4,259.1 2841.7,252.1C2858.1,245.2 2850.2,249.6 2867,245.4C2883.8,241.2 2875.7,243.2 2892.2,239.6C2908.6,235.9 2900.6,237.9 2916.2,234.4C2931.9,230.9 2924.3,232.9 2939,229.2C2953.8,225.4 2946.6,227.1 2960.6,223C2974.6,219 2967.8,220.6 2981,216.9C2994.1,213.3 2987.7,214.8 3000.1,212.1C3012.4,209.3 3006.5,210.6 3018,208.7C3029.5,206.8 3024,207.6 3034.6,206.3C3045.3,205 3040.2,205.7 3050,204.8C3059.8,203.8 3055.1,204.3 3064,203.6C3072.9,203 3072.5,203.1 3076.7,202.8C3076.7,206.8 3077.3,206.4 3076.8,214.7C3076.3,223.1 3077,218.8 3075.3,227.9C3073.6,237 3074.8,232.4 3071.7,242.1C3068.6,251.8 3070.6,247 3065.9,257C3061.2,267 3063.9,262.1 3057.6,272.1C3051.2,282.2 3054.8,277.2 3046.8,287.2C3038.9,297.3 3043.1,292.3 3033.7,302.3C3024.3,312.3 3029.2,307.3 3018.6,317.3C3008.1,327.3 3013.6,322.3 3002,332.3C2990.5,342.2 2996.5,337.3 2984,347.2C2971.5,357 2978,352.2 2964.6,361.8C2951.2,371.4 2958.1,366.8 2943.8,376C2929.5,385.2 2936.8,380.8 2921.6,389.5C2906.4,398.2 2914.2,394.1 2898.1,402.2C2882,410.3 2890.3,406.5 2873.4,413.9C2856.5,421.2 2865.1,417.9 2847.4,424.3C2829.8,430.8 2838.7,428.2 2820.4,433.3C2802.1,438.3 2811.3,436.6 2792.6,439.5C2773.8,442.4 2783.2,441.4 2764.2,442C2745.1,442.6 2754.6,442 2735.5,441.3C2716.3,440.6 2725.8,440.4 2706.7,439.8C2687.6,439.1 2697,438.8 2678.2,439.4C2659.4,439.9 2668.6,439 2650.2,441.4C2631.8,443.9 2640.8,442.4 2623,446.8C2605.2,451.3 2613.9,448.9 2596.8,454.9C2579.7,460.8 2588,457.8 2571.8,464.6C2555.5,471.4 2563.4,467.9 2548,475.3C2532.7,482.6 2540.2,478.9 2525.6,486.6C2511,494.4 2518.1,490.5 2504.4,498.4C2490.6,506.3 2497.3,502.4 2484.3,510.3C2471.3,518.3 2477.6,514.4 2465.4,522.2C2453.2,530 2459.1,526.2 2447.6,533.8C2436.2,541.4 2441.7,537.7 2431,544.9C2420.2,552.2 2425.5,548.7 2415.4,555.5C2405.3,562.2 2410.2,559 2400.8,565.1C2391.3,571.1 2395.9,568.3 2387.1,573.6C2378.3,578.9 2382.5,576.5 2374.3,580.9C2366.1,585.3 2370,583.3 2362.5,586.8C2355,590.2 2355.3,589.7 2351.7,591.2Z" stroke="#ed1f2a"/>
<path d="M2351.7,490.8C2352.4,487.2 2351.8,487.3 2353.8,479.9C2355.9,472.5 2354.5,476.2 2357.8,468.6C2361.2,460.9 2359.1,464.7 2363.9,456.9C2368.7,449.1 2366,453 2372.2,445.1C2378.4,437.2 2375.1,441.1 2382.5,433.2C2390,425.3 2386,429.2 2394.6,421.4C2403.3,413.6 2398.7,417.4 2408.5,409.7C2418.3,402.1 2413.1,405.8 2424.1,398.4C2435,391 2429.3,394.6 2441.3,387.5C2453.3,380.5 2447.1,383.9 2460.1,377.2C2473,370.6 2466.4,373.7 2480.2,367.6C2494,361.5 2486.9,364.3 2501.5,358.9C2516,353.5 2508.6,355.9 2523.9,351.4C2539.2,347 2531.4,348.8 2547.3,345.5C2563.3,342.1 2555.2,343.5 2571.7,341.3C2588.1,339.1 2579.8,340.1 2596.7,338.8C2613.6,337.4 2605.1,338.1 2622.3,337.3C2639.5,336.4 2630.9,336.9 2648.3,336.2C2665.8,335.4 2657.1,335.9 2674.6,335C2692,334.1 2683.4,334.7 2700.8,333.5C2718.2,332.3 2709.6,333 2726.9,331.3C2744.1,329.7 2735.6,330.6 2752.6,328.5C2769.6,326.4 2761.2,327.7 2777.9,325C2794.5,322.2 2786.3,324.3 2802.5,320.3C2818.7,316.4 2810.7,318.3 2826.4,313.1C2842.1,307.9 2834.4,309.8 2849.6,304.6C2864.9,299.5 2857.4,301.6 2872.2,297.6C2887.1,293.5 2879.7,295.8 2894.2,292.4C2908.7,289.1 2901.6,290.7 2915.6,287.6C2929.7,284.5 2922.8,285.8 2936.4,283.1C2950,280.4 2943.3,281.6 2956.4,279.6C2969.4,277.5 2963.1,278.5 2975.4,276.8C2987.8,275.1 2981.8,276 2993.5,274.4C3005.1,272.9 2999.5,273.6 3010.4,272.2C3021.3,270.7 3016.1,271.4 3026.2,270.1C3036.3,268.8 3031.5,269.4 3040.7,268.3C3050,267.3 3045.6,267.7 3054,266.9C3062.4,266 3058.4,266.4 3066,265.8C3073.6,265.2 3073.1,265.3 3076.7,265C3076.4,268.7 3077.2,268.5 3075.9,276C3074.6,283.5 3075.7,279.7 3072.8,287.5C3069.9,295.3 3071.8,291.4 3067.2,299.3C3062.6,307.2 3065.3,303.3 3059.1,311.2C3052.8,319.1 3056.3,315.2 3048.6,322.9C3040.8,330.7 3045,326.9 3035.8,334.3C3026.7,341.8 3031.5,338.2 3021,345.2C3010.5,352.3 3016,349 3004.4,355.5C2992.9,362 2998.9,359 2986.3,364.7C2973.8,370.4 2980.3,367.5 2966.9,372.6C2953.5,377.7 2960.4,375.1 2946.2,380C2932.1,384.9 2939.3,382.4 2924.5,387.3C2909.7,392.2 2917.2,389.8 2901.9,394.8C2886.7,399.7 2894.4,397.3 2878.6,402.1C2862.9,406.9 2870.9,404.7 2854.7,409.1C2838.5,413.5 2846.7,411.5 2830.1,415.3C2813.5,419.2 2821.9,417.5 2805,420.5C2788.1,423.6 2796.5,422.2 2779.4,424.4C2762.2,426.6 2770.8,425.7 2753.5,427.1C2736.2,428.5 2744.8,428 2727.4,428.6C2710,429.2 2718.7,429.1 2701.3,429C2684,428.9 2692.6,428.9 2675.4,428.4C2658.1,427.8 2666.7,427.8 2649.7,427.4C2632.7,427 2641,426.7 2624.4,427.3C2607.7,427.8 2615.9,427.2 2599.6,429C2583.3,430.8 2591.3,429.8 2575.5,432.6C2559.7,435.3 2567.4,434 2552.2,437.2C2536.9,440.4 2544.4,438.8 2529.7,442.2C2515,445.6 2522.2,443.9 2508.2,447.3C2494.2,450.7 2501,449 2487.6,452.5C2474.3,455.9 2480.8,454.2 2468.1,457.6C2455.4,461.1 2461.6,459.4 2449.6,462.8C2437.6,466.1 2443.4,464.5 2432.2,467.8C2420.9,471.1 2426.4,469.5 2415.9,472.7C2405.4,475.9 2410.4,474.3 2400.7,477.3C2390.9,480.4 2395.6,478.9 2386.6,481.8C2377.7,484.6 2382,483.3 2373.8,485.9C2365.6,488.5 2369.5,488 2362.1,489.6C2354.8,491.3 2355.2,490.4 2351.7,490.8Z" stroke="#2f7f83"/>
</g>
<circle cx="2351.7" cy="591.2" r="1.8" fill="#fff" fill-opacity="0.6"/>
<circle cx="2351.7" cy="490.8" r="1.8" fill="#fff" fill-opacity="0.6"/>
<path d="M2904.7,108.7 H2991.1" stroke="#e0304a" stroke-width="4.8" stroke-linecap="round" fill="none"/>
<circle cx="2947.9" cy="108.7" r="4.6" fill="#e0304a"/>
<circle cx="2946.7" cy="107.3" r="1.6" fill="#fff" fill-opacity="0.55"/>
<text x="3003" y="121.3" font-family="'Liberation Sans', Arial, Helvetica, sans-serif" font-size="38.5" fill="#111">6.8°C</text>
<path d="M2904.7,155.7 H2991.1" stroke="#347a7a" stroke-width="4.8" stroke-linecap="round" fill="none"/>
<circle cx="2947.9" cy="155.7" r="4.6" fill="#347a7a"/>
<circle cx="2946.7" cy="154.3" r="1.6" fill="#fff" fill-opacity="0.55"/>
<text x="3004.5" y="168.4" font-family="'Liberation Sans', Arial, Helvetica, sans-serif" font-size="38.5" fill="#111">RT</text>
<g stroke="#111" stroke-width="4.6" fill="none" stroke-linecap="butt">
<path d="M2351.7,718.9 v-13.2M2472.5,718.9 v-13.2M2593.4,718.9 v-13.2M2714.2,718.9 v-13.2M2835,718.9 v-13.2M2955.9,718.9 v-13.2M3076.7,718.9 v-13.2M2412.1,718.9 v-6.6M2533,718.9 v-6.6M2653.8,718.9 v-6.6M2774.6,718.9 v-6.6M2895.5,718.9 v-6.6M3016.3,718.9 v-6.6M2291,681.2 h13.2M2291,529.8 h13.2M2291,378.3 h13.2M2291,226.9 h13.2M2291,75.4 h13.2M2291,605.5 h6.6M2291,454 h6.6M2291,302.6 h6.6M2291,151.1 h6.6"/>
</g>
<rect x="2291" y="38" width="846.4" height="680.9" fill="none" stroke="#111" stroke-width="4.6"/>
<g font-family="'Liberation Sans', Arial, Helvetica, sans-serif" font-weight="700" font-size="38.5" fill="#111">
<text x="2351.2" y="763.5" text-anchor="middle">0.0</text>
<text x="2472" y="763.5" text-anchor="middle">0.5</text>
<text x="2592.9" y="763.5" text-anchor="middle">1.0</text>
<text x="2713.7" y="763.5" text-anchor="middle">1.5</text>
<text x="2834.5" y="763.5" text-anchor="middle">2.0</text>
<text x="2955.4" y="763.5" text-anchor="middle">2.5</text>
<text x="3076.2" y="763.5" text-anchor="middle">3.0</text>
<text x="2276" y="692.8" text-anchor="end">-2</text>
<text x="2276" y="541.4" text-anchor="end">-1</text>
<text x="2276" y="389.9" text-anchor="end">0</text>
<text x="2276" y="238.5" text-anchor="end">1</text>
<text x="2276" y="87" text-anchor="end">2</text>
</g>
<g font-family="'Liberation Sans', Arial, Helvetica, sans-serif" font-weight="700" font-size="45" fill="#111">
<text x="2714.5" y="829.4" text-anchor="middle">Potential (V)</text>
<text transform="translate(2222,377.2) rotate(-90)" text-anchor="middle">Current density (A/g)</text>
</g>
<text x="2177.5" y="89.5" font-family="'Liberation Sans', Arial, Helvetica, sans-serif" font-size="115" fill="#111" >c</text>
</g>
<g id="panel-d">
<clipPath id="clip-d"><rect x="147.1" y="944.6" width="845.5" height="682.4"/></clipPath>
<path d="M228,1019.9L348,1232.6L549.4,1389.7L751,1448.3L951.8,1477.9" fill="none" stroke="#e0304a" stroke-width="4.8" stroke-linejoin="round" stroke-linecap="round"/>
<circle cx="228" cy="1019.9" r="4.9" fill="#e0304a"/>
<circle cx="226.6" cy="1018.4" r="1.8" fill="#fff" fill-opacity="0.5"/>
<circle cx="348" cy="1232.6" r="4.9" fill="#e0304a"/>
<circle cx="346.6" cy="1231.1" r="1.8" fill="#fff" fill-opacity="0.5"/>
<circle cx="549.4" cy="1389.7" r="4.9" fill="#e0304a"/>
<circle cx="548" cy="1388.2" r="1.8" fill="#fff" fill-opacity="0.5"/>
<circle cx="751" cy="1448.3" r="4.9" fill="#e0304a"/>
<circle cx="749.6" cy="1446.8" r="1.8" fill="#fff" fill-opacity="0.5"/>
<circle cx="951.8" cy="1477.9" r="4.9" fill="#e0304a"/>
<circle cx="950.4" cy="1476.4" r="1.8" fill="#fff" fill-opacity="0.5"/>
<path d="M228,1489.6L347.8,1536.4L549.5,1549.2L751,1559.4L951.8,1563.6" fill="none" stroke="#2f7f83" stroke-width="4.8" stroke-linejoin="round" stroke-linecap="round"/>
<circle cx="228" cy="1489.6" r="4.9" fill="#2f7f83"/>
<circle cx="226.6" cy="1488.1" r="1.8" fill="#fff" fill-opacity="0.5"/>
<circle cx="347.8" cy="1536.4" r="4.9" fill="#2f7f83"/>
<circle cx="346.4" cy="1534.9" r="1.8" fill="#fff" fill-opacity="0.5"/>
<circle cx="549.5" cy="1549.2" r="4.9" fill="#2f7f83"/>
<circle cx="548.1" cy="1547.7" r="1.8" fill="#fff" fill-opacity="0.5"/>
<circle cx="751" cy="1559.4" r="4.9" fill="#2f7f83"/>
<circle cx="749.6" cy="1557.9" r="1.8" fill="#fff" fill-opacity="0.5"/>
<circle cx="951.8" cy="1563.6" r="4.9" fill="#2f7f83"/>
<circle cx="950.4" cy="1562.1" r="1.8" fill="#fff" fill-opacity="0.5"/>
<path d="M748,1032.4 H832.5" stroke="#e0304a" stroke-width="4.9" stroke-linecap="round" fill="none"/>
<circle cx="790.2" cy="1032.4" r="4.6" fill="#e0304a"/>
<circle cx="789" cy="1031" r="1.6" fill="#fff" fill-opacity="0.55"/>
<text x="845.6" y="1045.4" font-family="'Liberation Sans', Arial, Helvetica, sans-serif" font-size="38.5" fill="#111">6.8°C</text>
<path d="M748,1079.3 H832.5" stroke="#347a7a" stroke-width="4.9" stroke-linecap="round" fill="none"/>
<circle cx="790.2" cy="1079.3" r="4.6" fill="#347a7a"/>
<circle cx="789" cy="1077.9" r="1.6" fill="#fff" fill-opacity="0.55"/>
<text x="847.2" y="1092.2" font-family="'Liberation Sans', Arial, Helvetica, sans-serif" font-size="38.5" fill="#111">RT</text>
<g stroke="#111" stroke-width="4.6" fill="none" stroke-linecap="butt">
<path d="M146.9,1627 v-13.2M307.9,1627 v-13.2M468.9,1627 v-13.2M629.9,1627 v-13.2M790.9,1627 v-13.2M951.9,1627 v-13.2M227.4,1627 v-6.6M388.4,1627 v-6.6M549.4,1627 v-6.6M710.4,1627 v-6.6M871.4,1627 v-6.6M147.1,1597.3 h13.2M147.1,1478.8 h13.2M147.1,1360.2 h13.2M147.1,1241.7 h13.2M147.1,1123.1 h13.2M147.1,1004.6 h13.2M147.1,1538 h6.6M147.1,1419.5 h6.6M147.1,1301 h6.6M147.1,1182.4 h6.6M147.1,1063.9 h6.6"/>
</g>
<rect x="147.1" y="944.6" width="845.5" height="682.4" fill="none" stroke="#111" stroke-width="4.6"/>
<g font-family="'Liberation Sans', Arial, Helvetica, sans-serif" font-weight="700" font-size="38.5" fill="#111">
<text x="146.4" y="1671.6" text-anchor="middle">0</text>
<text x="307.4" y="1671.6" text-anchor="middle">20</text>
<text x="468.4" y="1671.6" text-anchor="middle">40</text>
<text x="629.4" y="1671.6" text-anchor="middle">60</text>
<text x="790.4" y="1671.6" text-anchor="middle">80</text>
<text x="951.4" y="1671.6" text-anchor="middle">100</text>
<text x="132.1" y="1608.9" text-anchor="end">0</text>
<text x="132.1" y="1490.4" text-anchor="end">40</text>
<text x="132.1" y="1371.8" text-anchor="end">80</text>
<text x="132.1" y="1253.3" text-anchor="end">120</text>
<text x="132.1" y="1134.7" text-anchor="end">160</text>
<text x="132.1" y="1016.2" text-anchor="end">200</text>
</g>
<g font-family="'Liberation Sans', Arial, Helvetica, sans-serif" font-weight="700" font-size="45" fill="#111">
<text x="562.8" y="1733.6" text-anchor="middle">Scan rate (mV/s)</text>
<text transform="translate(38.5,1284.6) rotate(-90)" text-anchor="middle">Specific capacity (F/g)</text>
</g>
<text x="-2" y="1024" font-family="'Liberation Sans', Arial, Helvetica, sans-serif" font-size="115" fill="#111" >d</text>
</g>
<g id="panel-e">
<clipPath id="clip-e"><rect x="1223.1" y="944.7" width="845.7" height="682.2"/></clipPath>
<g fill="none" stroke-width="5.2" stroke-linejoin="round" stroke-linecap="round" clip-path="url(#clip-e)">
<path d="M1255.5,965.4C1255.5,969 1255.5,968.7 1255.6,976.1C1255.7,983.5 1255.7,979.6 1255.8,987.6C1255.9,995.5 1255.9,991.4 1256,999.9C1256.1,1008.4 1256,1004 1256.2,1013.1C1256.4,1022.1 1256.3,1017.5 1256.5,1027.1C1256.7,1036.6 1256.6,1031.7 1256.8,1041.8C1257.1,1051.9 1256.9,1046.8 1257.3,1057.4C1257.6,1068 1257.4,1062.6 1257.9,1073.7C1258.3,1084.8 1258,1079.2 1258.6,1090.8C1259.2,1102.4 1258.8,1096.5 1259.6,1108.6C1260.3,1120.7 1259.9,1114.5 1260.9,1127.1C1261.8,1139.6 1261.3,1133.2 1262.5,1146.2C1263.7,1159.2 1263,1152.6 1264.5,1166C1266,1179.4 1265.1,1172.6 1266.9,1186.5C1268.8,1200.3 1267.7,1193.3 1270,1207.5C1272.3,1221.7 1271,1214.5 1273.7,1229C1276.4,1243.6 1274.9,1236.2 1278.2,1251.1C1281.4,1266 1279.6,1258.5 1283.5,1273.7C1287.4,1288.9 1285.2,1281.4 1289.8,1296.7C1294.5,1312.1 1291.8,1304.5 1297.4,1319.8C1303,1335.1 1299.8,1327.6 1306.6,1342.6C1313.4,1357.6 1309.6,1350.3 1317.7,1364.8C1325.9,1379.2 1321.4,1372.3 1331,1385.9C1340.5,1399.6 1335.4,1393.1 1346.4,1405.6C1357.4,1418.2 1351.6,1412.3 1364.1,1423.5C1376.6,1434.6 1370.1,1429.4 1383.9,1439.2C1397.7,1448.9 1390.6,1444.3 1405.6,1452.8C1420.5,1461.2 1412.9,1457.3 1428.7,1464.4C1444.4,1471.6 1436.5,1468.2 1452.8,1474.3C1469.2,1480.3 1460.9,1477.4 1477.7,1482.5C1494.4,1487.6 1486,1485.1 1503,1489.5C1520,1493.8 1511.5,1491.7 1528.6,1495.5C1545.7,1499.4 1537.2,1497.5 1554.2,1501C1571.3,1504.6 1562.8,1502.8 1579.7,1506.2C1596.6,1509.7 1588.2,1508 1604.9,1511.3C1621.6,1514.7 1613.3,1513 1629.8,1516.3C1646.3,1519.6 1638.1,1518 1654.4,1521.2C1670.6,1524.5 1662.6,1522.8 1678.6,1526C1694.6,1529.3 1686.6,1527.7 1702.4,1530.8C1718.1,1534 1710.3,1532.4 1725.7,1535.6C1741.2,1538.8 1733.5,1537.2 1748.6,1540.3C1763.7,1543.5 1756.3,1541.9 1771,1545.1C1785.8,1548.2 1778.5,1546.6 1792.9,1549.7C1807.3,1552.8 1800.2,1551.3 1814.3,1554.3C1828.3,1557.4 1821.4,1555.9 1835,1558.9C1848.6,1561.9 1841.9,1560.4 1855.2,1563.3C1868.4,1566.2 1861.9,1564.8 1874.7,1567.6C1887.5,1570.4 1881.2,1569 1893.5,1571.7C1905.9,1574.5 1899.8,1573.1 1911.7,1575.8C1923.6,1578.4 1917.8,1577.1 1929.2,1579.6C1940.6,1582.1 1935,1580.9 1945.9,1583.3C1956.9,1585.6 1951.5,1584.5 1962,1586.8C1972.4,1589 1967.3,1587.9 1977.2,1590.1C1987.1,1592.2 1982.3,1591.2 1991.7,1593.2C2001.1,1595.2 1996.5,1594.2 2005.4,1596.1C2014.2,1598 2009.9,1597 2018.2,1598.8C2026.6,1600.5 2022.5,1599.7 2030.3,1601.3C2038.1,1602.9 2034.3,1602.2 2041.6,1603.7C2048.8,1605.1 2048.5,1605.1 2052,1605.8" stroke="#de1f2b"/>
<path d="M1255.5,965.4C1255.5,968.1 1255.5,967.9 1255.6,973.5C1255.7,979 1255.7,976.1 1255.8,982.2C1255.8,988.2 1255.8,985.1 1255.9,991.5C1256,997.9 1255.9,994.6 1256,1001.4C1256.1,1008.3 1256,1004.8 1256.1,1012C1256.2,1019.3 1256.2,1015.5 1256.2,1023.2C1256.3,1030.9 1256.3,1026.9 1256.4,1035C1256.5,1043 1256.4,1038.9 1256.5,1047.4C1256.6,1055.8 1256.6,1051.5 1256.7,1060.3C1256.8,1069.1 1256.8,1064.6 1256.9,1073.8C1257.1,1083 1257,1078.3 1257.3,1087.8C1257.5,1097.4 1257.4,1092.5 1257.7,1102.4C1258,1112.3 1257.8,1107.3 1258.2,1117.5C1258.6,1127.7 1258.4,1122.5 1258.9,1133C1259.4,1143.5 1259.1,1138.2 1259.8,1149C1260.5,1159.8 1260.1,1154.3 1260.9,1165.4C1261.7,1176.5 1261.3,1170.9 1262.3,1182.3C1263.3,1193.7 1262.8,1187.9 1264,1199.5C1265.3,1211.2 1264.6,1205.3 1266.1,1217.1C1267.6,1229 1266.8,1223 1268.6,1235.1C1270.4,1247.2 1269.4,1241.1 1271.5,1253.4C1273.7,1265.6 1272.5,1259.5 1275.1,1271.9C1277.6,1284.3 1276.2,1278.1 1279.2,1290.6C1282.3,1303 1280.6,1296.8 1284.2,1309.3C1287.9,1321.8 1285.9,1315.6 1290.2,1328C1294.5,1340.4 1292.1,1334.4 1297.2,1346.5C1302.2,1358.7 1299.5,1352.8 1305.4,1364.5C1311.3,1376.2 1308.1,1370.6 1314.9,1381.7C1321.8,1392.7 1318.1,1387.5 1325.9,1397.7C1333.7,1407.9 1329.6,1403 1338.4,1412.3C1347.2,1421.5 1342.6,1417.1 1352.3,1425.5C1361.9,1433.9 1356.9,1429.8 1367.2,1437.5C1377.6,1445.2 1372.3,1441.5 1383.2,1448.4C1394,1455.4 1388.6,1452 1399.8,1458.5C1411.1,1464.9 1405.4,1461.7 1416.9,1467.7C1428.4,1473.6 1422.7,1470.7 1434.3,1476.3C1445.9,1481.9 1440.2,1479.1 1451.8,1484.4C1463.3,1489.7 1457.6,1487.1 1469.1,1492.1C1480.5,1497.2 1474.9,1494.7 1486.1,1499.6C1497.4,1504.5 1491.8,1502.1 1502.8,1506.8C1513.9,1511.6 1508.4,1509.2 1519.2,1513.8C1530,1518.4 1524.7,1516.1 1535.2,1520.6C1545.8,1525 1540.6,1522.8 1550.9,1527.1C1561.2,1531.5 1556.1,1529.3 1566.1,1533.5C1576.1,1537.7 1571.2,1535.6 1580.9,1539.7C1590.7,1543.7 1585.9,1541.7 1595.3,1545.6C1604.7,1549.6 1600.1,1547.6 1609.2,1551.4C1618.3,1555.2 1613.8,1553.4 1622.6,1557C1631.4,1560.7 1627.1,1558.9 1635.6,1562.5C1644,1566 1639.9,1564.3 1648,1567.7C1656.1,1571.1 1652.1,1569.5 1659.9,1572.8C1667.6,1576.1 1663.8,1574.4 1671.2,1577.6C1678.6,1580.8 1675,1579.2 1682,1582.3C1689,1585.3 1685.6,1583.8 1692.2,1586.7C1698.9,1589.6 1695.7,1588.2 1701.9,1591C1708.2,1593.8 1705.1,1592.4 1711,1595C1716.9,1597.7 1714,1596.4 1719.5,1598.9C1725,1601.3 1722.4,1600.1 1727.5,1602.4C1732.5,1604.8 1732.4,1604.7 1734.8,1605.8" stroke="#2f7f83"/>
</g>
<path d="M1815.2,1028.8 H1901.6" stroke="#de1f2b" stroke-width="4.9" stroke-linecap="round" fill="none"/>
<text x="1912.6" y="1041.6" font-family="'Liberation Sans', Arial, Helvetica, sans-serif" font-size="38.5" fill="#111">6.8°C</text>
<path d="M1815.2,1078.3 H1901.6" stroke="#347a7a" stroke-width="4.9" stroke-linecap="round" fill="none"/>
<text x="1914.2" y="1091.7" font-family="'Liberation Sans', Arial, Helvetica, sans-serif" font-size="38.5" fill="#111">RT</text>
<g stroke="#111" stroke-width="4.6" fill="none" stroke-linecap="butt">
<path d="M1255.2,1626.9 v-13.2M1385.5,1626.9 v-13.2M1515.7,1626.9 v-13.2M1646,1626.9 v-13.2M1776.3,1626.9 v-13.2M1906.6,1626.9 v-13.2M2036.8,1626.9 v-13.2M1320.3,1626.9 v-6.6M1450.6,1626.9 v-6.6M1580.9,1626.9 v-6.6M1711.1,1626.9 v-6.6M1841.4,1626.9 v-6.6M1971.7,1626.9 v-6.6M1223.1,1605.4 h13.2M1223.1,1477.5 h13.2M1223.1,1349.6 h13.2M1223.1,1221.6 h13.2M1223.1,1093.7 h13.2M1223.1,965.8 h13.2M1223.1,1541.4 h6.6M1223.1,1413.5 h6.6M1223.1,1285.6 h6.6M1223.1,1157.7 h6.6M1223.1,1029.8 h6.6"/>
</g>
<rect x="1223.1" y="944.7" width="845.7" height="682.2" fill="none" stroke="#111" stroke-width="4.6"/>
<g font-family="'Liberation Sans', Arial, Helvetica, sans-serif" font-weight="700" font-size="38.5" fill="#111">
<text x="1254.7" y="1671.5" text-anchor="middle">0</text>
<text x="1385" y="1671.5" text-anchor="middle">100</text>
<text x="1515.2" y="1671.5" text-anchor="middle">200</text>
<text x="1645.5" y="1671.5" text-anchor="middle">300</text>
<text x="1775.8" y="1671.5" text-anchor="middle">400</text>
<text x="1906.1" y="1671.5" text-anchor="middle">500</text>
<text x="2036.3" y="1671.5" text-anchor="middle">600</text>
<text x="1208.1" y="1617" text-anchor="end">0.0</text>
<text x="1208.1" y="1489.1" text-anchor="end">0.6</text>
<text x="1208.1" y="1361.2" text-anchor="end">1.2</text>
<text x="1208.1" y="1233.2" text-anchor="end">1.8</text>
<text x="1208.1" y="1105.3" text-anchor="end">2.4</text>
<text x="1208.1" y="977.4" text-anchor="end">3.0</text>
</g>
<g font-family="'Liberation Sans', Arial, Helvetica, sans-serif" font-weight="700" font-size="45" fill="#111">
<text x="1646" y="1733.8" text-anchor="middle">Time (s)</text>
<text transform="translate(1123,1284.6) rotate(-90)" text-anchor="middle">Potential (V)</text>
</g>
<text x="1084" y="1015.5" font-family="'Liberation Sans', Arial, Helvetica, sans-serif" font-size="115" fill="#111" >e</text>
</g>
<g id="panel-f">
<clipPath id="clip-f"><rect x="2291.6" y="944.7" width="845.6" height="682.3"/></clipPath>
<g clip-path="url(#clip-f)">
<path d="M2459.5,1553.4 L2464.5,1550.6M2470.7,1547.2 L2476.7,1543.8M2482.8,1540.3 L2490,1536.2M2496,1532.7 L2504.5,1527.8M2510.6,1524.5 L2521,1518.9M2527.1,1515.5 L2538.3,1509.1M2544.3,1505.6 L2557.7,1497.8M2563.7,1494.3 L2578.6,1485.4M2584.6,1481.8 L2601.9,1471.1M2607.9,1467.5 L2627.7,1455.3M2633.7,1451.6 L2655.6,1437.7M2661.5,1433.8 L2686.4,1417.2M2692.2,1413.2 L2720.2,1394.4M2726,1390.5 L2763.3,1365.5M2769,1361.6 L2810.8,1331.4M2816.3,1327.2 L2855.3,1295.5M2860.6,1290.9 L2897,1257.3M2902,1252.4 L2938.1,1214.3M2942.8,1209.1 L2980.7,1164M2985,1158.4 L3021,1106.6M3024.7,1100.6 L3059,1038.4M3062.1,1032.1 L3094.8,956.9" fill="none" stroke="#e0304a" stroke-width="4.6" stroke-linejoin="round" stroke-linecap="butt"/>
<circle cx="2323" cy="1624.9" r="4.5" fill="#e4202f"/>
<circle cx="2321.7" cy="1623.6" r="1.6" fill="#fff" fill-opacity="0.5"/>
<circle cx="2324" cy="1624.2" r="4.5" fill="#e4202f"/>
<circle cx="2322.7" cy="1622.9" r="1.6" fill="#fff" fill-opacity="0.5"/>
<circle cx="2325" cy="1623.5" r="4.5" fill="#e4202f"/>
<circle cx="2323.7" cy="1622.1" r="1.6" fill="#fff" fill-opacity="0.5"/>
<circle cx="2326" cy="1622.8" r="4.5" fill="#e4202f"/>
<circle cx="2324.8" cy="1621.4" r="1.6" fill="#fff" fill-opacity="0.5"/>
<circle cx="2327.1" cy="1622" r="4.5" fill="#e4202f"/>
<circle cx="2325.8" cy="1620.6" r="1.6" fill="#fff" fill-opacity="0.5"/>
<circle cx="2328.2" cy="1621.2" r="4.5" fill="#e4202f"/>
<circle cx="2326.9" cy="1619.9" r="1.6" fill="#fff" fill-opacity="0.5"/>
<circle cx="2329.3" cy="1620.4" r="4.5" fill="#e4202f"/>
<circle cx="2328.1" cy="1619.1" r="1.6" fill="#fff" fill-opacity="0.5"/>
<circle cx="2330.5" cy="1619.6" r="4.5" fill="#e4202f"/>
<circle cx="2329.2" cy="1618.2" r="1.6" fill="#fff" fill-opacity="0.5"/>
<circle cx="2331.7" cy="1618.7" r="4.5" fill="#e4202f"/>
<circle cx="2330.4" cy="1617.4" r="1.6" fill="#fff" fill-opacity="0.5"/>
<circle cx="2333" cy="1617.9" r="4.5" fill="#e4202f"/>
<circle cx="2331.7" cy="1616.5" r="1.6" fill="#fff" fill-opacity="0.5"/>
<circle cx="2334.4" cy="1617.1" r="4.5" fill="#e4202f"/>
<circle cx="2333.1" cy="1615.8" r="1.6" fill="#fff" fill-opacity="0.5"/>
<circle cx="2335.8" cy="1616.3" r="4.5" fill="#e4202f"/>
<circle cx="2334.6" cy="1614.9" r="1.6" fill="#fff" fill-opacity="0.5"/>
<circle cx="2337.3" cy="1615.4" r="4.5" fill="#e4202f"/>
<circle cx="2336.1" cy="1614.1" r="1.6" fill="#fff" fill-opacity="0.5"/>
<circle cx="2338.9" cy="1614.5" r="4.5" fill="#e4202f"/>
<circle cx="2337.6" cy="1613.2" r="1.6" fill="#fff" fill-opacity="0.5"/>
<circle cx="2340.5" cy="1613.6" r="4.5" fill="#e4202f"/>
<circle cx="2339.2" cy="1612.3" r="1.6" fill="#fff" fill-opacity="0.5"/>
<circle cx="2342.2" cy="1612.6" r="4.5" fill="#e4202f"/>
<circle cx="2340.9" cy="1611.3" r="1.6" fill="#fff" fill-opacity="0.5"/>
<circle cx="2344" cy="1611.7" r="4.5" fill="#e4202f"/>
<circle cx="2342.7" cy="1610.3" r="1.6" fill="#fff" fill-opacity="0.5"/>
<circle cx="2345.9" cy="1610.6" r="4.5" fill="#e4202f"/>
<circle cx="2344.6" cy="1609.3" r="1.6" fill="#fff" fill-opacity="0.5"/>
<circle cx="2347.8" cy="1609.6" r="4.5" fill="#e4202f"/>
<circle cx="2346.6" cy="1608.2" r="1.6" fill="#fff" fill-opacity="0.5"/>
<circle cx="2349.9" cy="1608.4" r="4.5" fill="#e4202f"/>
<circle cx="2348.7" cy="1607.1" r="1.6" fill="#fff" fill-opacity="0.5"/>
<circle cx="2352.1" cy="1607.2" r="4.5" fill="#e4202f"/>
<circle cx="2350.9" cy="1605.9" r="1.6" fill="#fff" fill-opacity="0.5"/>
<circle cx="2354.5" cy="1605.9" r="4.5" fill="#e4202f"/>
<circle cx="2353.2" cy="1604.6" r="1.6" fill="#fff" fill-opacity="0.5"/>
<circle cx="2357" cy="1604.6" r="4.5" fill="#e4202f"/>
<circle cx="2355.7" cy="1603.3" r="1.6" fill="#fff" fill-opacity="0.5"/>
<circle cx="2359.7" cy="1603.3" r="4.5" fill="#e4202f"/>
<circle cx="2358.4" cy="1601.9" r="1.6" fill="#fff" fill-opacity="0.5"/>
<circle cx="2362.5" cy="1601.8" r="4.5" fill="#e4202f"/>
<circle cx="2361.3" cy="1600.5" r="1.6" fill="#fff" fill-opacity="0.5"/>
<circle cx="2365.7" cy="1600.3" r="4.5" fill="#e4202f"/>
<circle cx="2364.4" cy="1598.9" r="1.6" fill="#fff" fill-opacity="0.5"/>
<circle cx="2369.1" cy="1598.6" r="4.5" fill="#e4202f"/>
<circle cx="2367.8" cy="1597.2" r="1.6" fill="#fff" fill-opacity="0.5"/>
<circle cx="2372.9" cy="1597" r="4.5" fill="#e4202f"/>
<circle cx="2371.7" cy="1595.7" r="1.6" fill="#fff" fill-opacity="0.5"/>
<circle cx="2377.2" cy="1595.4" r="4.5" fill="#e4202f"/>
<circle cx="2375.9" cy="1594" r="1.6" fill="#fff" fill-opacity="0.5"/>
<circle cx="2381.1" cy="1593.8" r="4.5" fill="#e4202f"/>
<circle cx="2379.8" cy="1592.5" r="1.6" fill="#fff" fill-opacity="0.5"/>
<circle cx="2386.4" cy="1591.2" r="4.5" fill="#e4202f"/>
<circle cx="2385.1" cy="1589.9" r="1.6" fill="#fff" fill-opacity="0.5"/>
<circle cx="2391.7" cy="1588.6" r="4.5" fill="#e4202f"/>
<circle cx="2390.4" cy="1587.2" r="1.6" fill="#fff" fill-opacity="0.5"/>
<circle cx="2397.6" cy="1585.9" r="4.5" fill="#e4202f"/>
<circle cx="2396.3" cy="1584.6" r="1.6" fill="#fff" fill-opacity="0.5"/>
<circle cx="2404.2" cy="1582.9" r="4.5" fill="#e4202f"/>
<circle cx="2402.9" cy="1581.6" r="1.6" fill="#fff" fill-opacity="0.5"/>
<circle cx="2410.8" cy="1579.3" r="4.5" fill="#e4202f"/>
<circle cx="2409.5" cy="1578" r="1.6" fill="#fff" fill-opacity="0.5"/>
<circle cx="2418.7" cy="1575.3" r="4.5" fill="#e4202f"/>
<circle cx="2417.4" cy="1574" r="1.6" fill="#fff" fill-opacity="0.5"/>
<circle cx="2426.9" cy="1571.4" r="4.5" fill="#e4202f"/>
<circle cx="2425.6" cy="1570.1" r="1.6" fill="#fff" fill-opacity="0.5"/>
<circle cx="2435.9" cy="1566.4" r="4.5" fill="#e4202f"/>
<circle cx="2434.6" cy="1565.1" r="1.6" fill="#fff" fill-opacity="0.5"/>
<circle cx="2446.2" cy="1560.8" r="4.5" fill="#e4202f"/>
<circle cx="2444.9" cy="1559.5" r="1.6" fill="#fff" fill-opacity="0.5"/>
<circle cx="2456.4" cy="1555.1" r="4.5" fill="#e4202f"/>
<circle cx="2455.1" cy="1553.8" r="1.6" fill="#fff" fill-opacity="0.5"/>
<circle cx="2467.6" cy="1548.9" r="4.5" fill="#e4202f"/>
<circle cx="2466.3" cy="1547.6" r="1.6" fill="#fff" fill-opacity="0.5"/>
<circle cx="2479.8" cy="1542.1" r="4.5" fill="#e4202f"/>
<circle cx="2478.5" cy="1540.8" r="1.6" fill="#fff" fill-opacity="0.5"/>
<circle cx="2493" cy="1534.4" r="4.5" fill="#e4202f"/>
<circle cx="2491.7" cy="1533.1" r="1.6" fill="#fff" fill-opacity="0.5"/>
<circle cx="2507.5" cy="1526.1" r="4.5" fill="#e4202f"/>
<circle cx="2506.2" cy="1524.8" r="1.6" fill="#fff" fill-opacity="0.5"/>
<circle cx="2524.1" cy="1517.3" r="4.5" fill="#e4202f"/>
<circle cx="2522.8" cy="1516" r="1.6" fill="#fff" fill-opacity="0.5"/>
<circle cx="2541.3" cy="1507.3" r="4.5" fill="#e4202f"/>
<circle cx="2540" cy="1506" r="1.6" fill="#fff" fill-opacity="0.5"/>
<circle cx="2560.7" cy="1496.1" r="4.5" fill="#e4202f"/>
<circle cx="2559.4" cy="1494.8" r="1.6" fill="#fff" fill-opacity="0.5"/>
<circle cx="2581.6" cy="1483.6" r="4.5" fill="#e4202f"/>
<circle cx="2580.3" cy="1482.2" r="1.6" fill="#fff" fill-opacity="0.5"/>
<circle cx="2604.9" cy="1469.3" r="4.5" fill="#e4202f"/>
<circle cx="2603.6" cy="1468" r="1.6" fill="#fff" fill-opacity="0.5"/>
<circle cx="2630.7" cy="1453.5" r="4.5" fill="#e4202f"/>
<circle cx="2629.4" cy="1452.2" r="1.6" fill="#fff" fill-opacity="0.5"/>
<circle cx="2658.6" cy="1435.8" r="4.5" fill="#e4202f"/>
<circle cx="2657.3" cy="1434.5" r="1.6" fill="#fff" fill-opacity="0.5"/>
<circle cx="2689.3" cy="1415.2" r="4.5" fill="#e4202f"/>
<circle cx="2688" cy="1413.9" r="1.6" fill="#fff" fill-opacity="0.5"/>
<circle cx="2723.1" cy="1392.4" r="4.5" fill="#e4202f"/>
<circle cx="2721.8" cy="1391.1" r="1.6" fill="#fff" fill-opacity="0.5"/>
<circle cx="2766.2" cy="1363.6" r="4.5" fill="#e4202f"/>
<circle cx="2764.9" cy="1362.2" r="1.6" fill="#fff" fill-opacity="0.5"/>
<circle cx="2813.6" cy="1329.4" r="4.5" fill="#e4202f"/>
<circle cx="2812.3" cy="1328.1" r="1.6" fill="#fff" fill-opacity="0.5"/>
<circle cx="2858" cy="1293.3" r="4.5" fill="#e4202f"/>
<circle cx="2856.7" cy="1292" r="1.6" fill="#fff" fill-opacity="0.5"/>
<circle cx="2899.6" cy="1254.9" r="4.5" fill="#e4202f"/>
<circle cx="2898.3" cy="1253.6" r="1.6" fill="#fff" fill-opacity="0.5"/>
<circle cx="2940.5" cy="1211.8" r="4.5" fill="#e4202f"/>
<circle cx="2939.2" cy="1210.5" r="1.6" fill="#fff" fill-opacity="0.5"/>
<circle cx="2983" cy="1161.3" r="4.5" fill="#e4202f"/>
<circle cx="2981.7" cy="1160" r="1.6" fill="#fff" fill-opacity="0.5"/>
<circle cx="3023" cy="1103.7" r="4.5" fill="#e4202f"/>
<circle cx="3021.7" cy="1102.4" r="1.6" fill="#fff" fill-opacity="0.5"/>
<circle cx="3060.7" cy="1035.3" r="4.5" fill="#e4202f"/>
<circle cx="3059.4" cy="1034" r="1.6" fill="#fff" fill-opacity="0.5"/>
<circle cx="3096.2" cy="953.7" r="4.5" fill="#e4202f"/>
<circle cx="3094.9" cy="952.4" r="1.6" fill="#fff" fill-opacity="0.5"/>
<circle cx="3100.4" cy="944.8" r="4.5" fill="#e4202f"/>
<circle cx="3099.1" cy="943.4" r="1.6" fill="#fff" fill-opacity="0.5"/>
<path d="M2486.3,1373.9 L2491.1,1369.6M2496.4,1365.1 L2501.8,1360.7M2507.3,1356.4 L2514,1351.2M2519.6,1347 L2527,1341.2M2532.5,1336.9 L2541.3,1330M2546.6,1325.5 L2556.3,1317.1M2561.7,1312.6 L2572.5,1304.1M2578,1299.7 L2590.6,1289.1M2596,1284.7 L2610.7,1272.5M2616.1,1268 L2632.4,1254M2637.8,1249.4 L2656.7,1233.3M2662.1,1228.7 L2683.6,1210.2M2688.9,1205.6 L2711.5,1185.3M2716.7,1180.7 L2745.1,1155.2M2750.3,1150.5 L2779.6,1124M2784.8,1119.2 L2822.8,1083.7M2827.9,1078.9 L2872.8,1036.1M2877.8,1031.2 L2918.2,990.5M2923,985.4 L2955.7,947.4" fill="none" stroke="#2f7f83" stroke-width="4.6" stroke-linejoin="round" stroke-linecap="butt"/>
<circle cx="2356.2" cy="1470.7" r="4.5" fill="#2f7f83"/>
<circle cx="2354.9" cy="1469.4" r="1.6" fill="#fff" fill-opacity="0.5"/>
<circle cx="2357.2" cy="1470" r="4.5" fill="#2f7f83"/>
<circle cx="2355.9" cy="1468.7" r="1.6" fill="#fff" fill-opacity="0.5"/>
<circle cx="2358.2" cy="1469.3" r="4.5" fill="#2f7f83"/>
<circle cx="2356.9" cy="1468" r="1.6" fill="#fff" fill-opacity="0.5"/>
<circle cx="2359.3" cy="1468.6" r="4.5" fill="#2f7f83"/>
<circle cx="2358" cy="1467.2" r="1.6" fill="#fff" fill-opacity="0.5"/>
<circle cx="2360.3" cy="1467.8" r="4.5" fill="#2f7f83"/>
<circle cx="2359.1" cy="1466.5" r="1.6" fill="#fff" fill-opacity="0.5"/>
<circle cx="2361.5" cy="1467" r="4.5" fill="#2f7f83"/>
<circle cx="2360.2" cy="1465.7" r="1.6" fill="#fff" fill-opacity="0.5"/>
<circle cx="2362.6" cy="1466.2" r="4.5" fill="#2f7f83"/>
<circle cx="2361.4" cy="1464.9" r="1.6" fill="#fff" fill-opacity="0.5"/>
<circle cx="2363.9" cy="1465.4" r="4.5" fill="#2f7f83"/>
<circle cx="2362.6" cy="1464" r="1.6" fill="#fff" fill-opacity="0.5"/>
<circle cx="2365.1" cy="1464.5" r="4.5" fill="#2f7f83"/>
<circle cx="2363.9" cy="1463.2" r="1.6" fill="#fff" fill-opacity="0.5"/>
<circle cx="2366.4" cy="1463.6" r="4.5" fill="#2f7f83"/>
<circle cx="2365.2" cy="1462.2" r="1.6" fill="#fff" fill-opacity="0.5"/>
<circle cx="2367.8" cy="1462.6" r="4.5" fill="#2f7f83"/>
<circle cx="2366.6" cy="1461.3" r="1.6" fill="#fff" fill-opacity="0.5"/>
<circle cx="2369.3" cy="1461.6" r="4.5" fill="#2f7f83"/>
<circle cx="2368" cy="1460.3" r="1.6" fill="#fff" fill-opacity="0.5"/>
<circle cx="2370.8" cy="1460.6" r="4.5" fill="#2f7f83"/>
<circle cx="2369.5" cy="1459.2" r="1.6" fill="#fff" fill-opacity="0.5"/>
<circle cx="2372.4" cy="1459.5" r="4.5" fill="#2f7f83"/>
<circle cx="2371.1" cy="1458.1" r="1.6" fill="#fff" fill-opacity="0.5"/>
<circle cx="2374" cy="1458.3" r="4.5" fill="#2f7f83"/>
<circle cx="2372.8" cy="1457" r="1.6" fill="#fff" fill-opacity="0.5"/>
<circle cx="2375.8" cy="1457.1" r="4.5" fill="#2f7f83"/>
<circle cx="2374.5" cy="1455.8" r="1.6" fill="#fff" fill-opacity="0.5"/>
<circle cx="2377.7" cy="1455.8" r="4.5" fill="#2f7f83"/>
<circle cx="2376.4" cy="1454.5" r="1.6" fill="#fff" fill-opacity="0.5"/>
<circle cx="2379.6" cy="1454.5" r="4.5" fill="#2f7f83"/>
<circle cx="2378.4" cy="1453.1" r="1.6" fill="#fff" fill-opacity="0.5"/>
<circle cx="2381.7" cy="1453" r="4.5" fill="#2f7f83"/>
<circle cx="2380.5" cy="1451.6" r="1.6" fill="#fff" fill-opacity="0.5"/>
<circle cx="2384" cy="1451.4" r="4.5" fill="#2f7f83"/>
<circle cx="2382.7" cy="1450" r="1.6" fill="#fff" fill-opacity="0.5"/>
<circle cx="2386.4" cy="1449.7" r="4.5" fill="#2f7f83"/>
<circle cx="2385.2" cy="1448.3" r="1.6" fill="#fff" fill-opacity="0.5"/>
<circle cx="2389" cy="1447.8" r="4.5" fill="#2f7f83"/>
<circle cx="2387.8" cy="1446.5" r="1.6" fill="#fff" fill-opacity="0.5"/>
<circle cx="2391.9" cy="1445.8" r="4.5" fill="#2f7f83"/>
<circle cx="2390.6" cy="1444.5" r="1.6" fill="#fff" fill-opacity="0.5"/>
<circle cx="2395" cy="1443.6" r="4.5" fill="#2f7f83"/>
<circle cx="2393.8" cy="1442.2" r="1.6" fill="#fff" fill-opacity="0.5"/>
<circle cx="2398.5" cy="1441.1" r="4.5" fill="#2f7f83"/>
<circle cx="2397.3" cy="1439.8" r="1.6" fill="#fff" fill-opacity="0.5"/>
<circle cx="2402.4" cy="1438.4" r="4.5" fill="#2f7f83"/>
<circle cx="2401.2" cy="1437" r="1.6" fill="#fff" fill-opacity="0.5"/>
<circle cx="2403.4" cy="1437.7" r="4.5" fill="#2f7f83"/>
<circle cx="2402.1" cy="1436.4" r="1.6" fill="#fff" fill-opacity="0.5"/>
<circle cx="2408.1" cy="1431.8" r="4.5" fill="#2f7f83"/>
<circle cx="2406.8" cy="1430.5" r="1.6" fill="#fff" fill-opacity="0.5"/>
<circle cx="2412.9" cy="1428.2" r="4.5" fill="#2f7f83"/>
<circle cx="2411.6" cy="1426.9" r="1.6" fill="#fff" fill-opacity="0.5"/>
<circle cx="2418.8" cy="1424.2" r="4.5" fill="#2f7f83"/>
<circle cx="2417.5" cy="1422.9" r="1.6" fill="#fff" fill-opacity="0.5"/>
<circle cx="2424.7" cy="1419.9" r="4.5" fill="#2f7f83"/>
<circle cx="2423.4" cy="1418.6" r="1.6" fill="#fff" fill-opacity="0.5"/>
<circle cx="2430.6" cy="1415.9" r="4.5" fill="#2f7f83"/>
<circle cx="2429.3" cy="1414.6" r="1.6" fill="#fff" fill-opacity="0.5"/>
<circle cx="2436.5" cy="1411.7" r="4.5" fill="#2f7f83"/>
<circle cx="2435.2" cy="1410.4" r="1.6" fill="#fff" fill-opacity="0.5"/>
<circle cx="2443.1" cy="1407" r="4.5" fill="#2f7f83"/>
<circle cx="2441.8" cy="1405.7" r="1.6" fill="#fff" fill-opacity="0.5"/>
<circle cx="2450.2" cy="1401" r="4.5" fill="#2f7f83"/>
<circle cx="2448.9" cy="1399.7" r="1.6" fill="#fff" fill-opacity="0.5"/>
<circle cx="2457.7" cy="1395.6" r="4.5" fill="#2f7f83"/>
<circle cx="2456.4" cy="1394.2" r="1.6" fill="#fff" fill-opacity="0.5"/>
<circle cx="2465.5" cy="1390.4" r="4.5" fill="#2f7f83"/>
<circle cx="2464.2" cy="1389.1" r="1.6" fill="#fff" fill-opacity="0.5"/>
<circle cx="2474.3" cy="1384" r="4.5" fill="#2f7f83"/>
<circle cx="2473" cy="1382.7" r="1.6" fill="#fff" fill-opacity="0.5"/>
<circle cx="2483.7" cy="1376.2" r="4.5" fill="#2f7f83"/>
<circle cx="2482.4" cy="1374.9" r="1.6" fill="#fff" fill-opacity="0.5"/>
<circle cx="2493.7" cy="1367.3" r="4.5" fill="#2f7f83"/>
<circle cx="2492.4" cy="1366" r="1.6" fill="#fff" fill-opacity="0.5"/>
<circle cx="2504.5" cy="1358.5" r="4.5" fill="#2f7f83"/>
<circle cx="2503.2" cy="1357.2" r="1.6" fill="#fff" fill-opacity="0.5"/>
<circle cx="2516.8" cy="1349.1" r="4.5" fill="#2f7f83"/>
<circle cx="2515.5" cy="1347.8" r="1.6" fill="#fff" fill-opacity="0.5"/>
<circle cx="2529.8" cy="1339.1" r="4.5" fill="#2f7f83"/>
<circle cx="2528.5" cy="1337.8" r="1.6" fill="#fff" fill-opacity="0.5"/>
<circle cx="2544" cy="1327.8" r="4.5" fill="#2f7f83"/>
<circle cx="2542.7" cy="1326.5" r="1.6" fill="#fff" fill-opacity="0.5"/>
<circle cx="2558.9" cy="1314.8" r="4.5" fill="#2f7f83"/>
<circle cx="2557.6" cy="1313.5" r="1.6" fill="#fff" fill-opacity="0.5"/>
<circle cx="2575.3" cy="1301.9" r="4.5" fill="#2f7f83"/>
<circle cx="2574" cy="1300.6" r="1.6" fill="#fff" fill-opacity="0.5"/>
<circle cx="2593.3" cy="1286.9" r="4.5" fill="#2f7f83"/>
<circle cx="2592" cy="1285.6" r="1.6" fill="#fff" fill-opacity="0.5"/>
<circle cx="2613.4" cy="1270.3" r="4.5" fill="#2f7f83"/>
<circle cx="2612.1" cy="1269" r="1.6" fill="#fff" fill-opacity="0.5"/>
<circle cx="2635.1" cy="1251.7" r="4.5" fill="#2f7f83"/>
<circle cx="2633.8" cy="1250.4" r="1.6" fill="#fff" fill-opacity="0.5"/>
<circle cx="2659.4" cy="1231" r="4.5" fill="#2f7f83"/>
<circle cx="2658.1" cy="1229.7" r="1.6" fill="#fff" fill-opacity="0.5"/>
<circle cx="2686.3" cy="1207.9" r="4.5" fill="#2f7f83"/>
<circle cx="2685" cy="1206.6" r="1.6" fill="#fff" fill-opacity="0.5"/>
<circle cx="2714.1" cy="1183" r="4.5" fill="#2f7f83"/>
<circle cx="2712.8" cy="1181.7" r="1.6" fill="#fff" fill-opacity="0.5"/>
<circle cx="2747.7" cy="1152.9" r="4.5" fill="#2f7f83"/>
<circle cx="2746.4" cy="1151.6" r="1.6" fill="#fff" fill-opacity="0.5"/>
<circle cx="2782.2" cy="1121.6" r="4.5" fill="#2f7f83"/>
<circle cx="2780.9" cy="1120.2" r="1.6" fill="#fff" fill-opacity="0.5"/>
<circle cx="2825.4" cy="1081.3" r="4.5" fill="#2f7f83"/>
<circle cx="2824.1" cy="1080" r="1.6" fill="#fff" fill-opacity="0.5"/>
<circle cx="2875.3" cy="1033.7" r="4.5" fill="#2f7f83"/>
<circle cx="2874" cy="1032.4" r="1.6" fill="#fff" fill-opacity="0.5"/>
<circle cx="2920.7" cy="988" r="4.5" fill="#2f7f83"/>
<circle cx="2919.4" cy="986.6" r="1.6" fill="#fff" fill-opacity="0.5"/>
<circle cx="2958" cy="944.8" r="4.5" fill="#2f7f83"/>
<circle cx="2956.7" cy="943.4" r="1.6" fill="#fff" fill-opacity="0.5"/>
</g>
<path d="M2381.7,1020.4 H2466.3" stroke="#e0304a" stroke-width="4.8" stroke-linecap="round" fill="none"/>
<circle cx="2424" cy="1020.4" r="4.6" fill="#e0304a"/>
<circle cx="2422.8" cy="1019" r="1.6" fill="#fff" fill-opacity="0.55"/>
<text x="2478.3" y="1033.3" font-family="'Liberation Sans', Arial, Helvetica, sans-serif" font-size="38.5" fill="#111">6.8 °C</text>
<path d="M2381.7,1070.2 H2466.3" stroke="#347a7a" stroke-width="4.8" stroke-linecap="round" fill="none"/>
<circle cx="2424" cy="1070.2" r="4.6" fill="#347a7a"/>
<circle cx="2422.8" cy="1068.8" r="1.6" fill="#fff" fill-opacity="0.55"/>
<text x="2480" y="1082.7" font-family="'Liberation Sans', Arial, Helvetica, sans-serif" font-size="38.5" fill="#111">RT</text>
<g stroke="#111" stroke-width="4.6" fill="none" stroke-linecap="butt">
<path d="M2371.2,1627 v-13.2M2618.2,1627 v-13.2M2865.3,1627 v-13.2M3112.3,1627 v-13.2M2494.7,1627 v-6.6M2741.8,1627 v-6.6M2988.8,1627 v-6.6M2291.6,1627 h13.2M2291.6,1460.5 h13.2M2291.6,1294 h13.2M2291.6,1127.6 h13.2M2291.6,961.1 h13.2M2291.6,1543.8 h6.6M2291.6,1377.3 h6.6M2291.6,1210.8 h6.6M2291.6,1044.3 h6.6"/>
</g>
<rect x="2291.6" y="944.7" width="845.6" height="682.3" fill="none" stroke="#111" stroke-width="4.6"/>
<g font-family="'Liberation Sans', Arial, Helvetica, sans-serif" font-weight="700" font-size="38.5" fill="#111">
<text x="2370.7" y="1671.6" text-anchor="middle">100</text>
<text x="2617.8" y="1671.6" text-anchor="middle">200</text>
<text x="2864.8" y="1671.6" text-anchor="middle">300</text>
<text x="3111.8" y="1671.6" text-anchor="middle">400</text>
<text x="2276.6" y="1638.6" text-anchor="end">0</text>
<text x="2276.6" y="1472.1" text-anchor="end">100</text>
<text x="2276.6" y="1305.6" text-anchor="end">200</text>
<text x="2276.6" y="1139.2" text-anchor="end">300</text>
<text x="2276.6" y="972.7" text-anchor="end">400</text>
</g>
<g font-family="'Liberation Sans', Arial, Helvetica, sans-serif" font-weight="700" font-size="45" fill="#111">
<text x="2713.8" y="1742.5" text-anchor="middle">Z' (<tspan font-family="'Liberation Serif', 'DejaVu Serif', serif" font-weight="400">Ω</tspan>)</text>
<text transform="translate(2184,1284.7) rotate(-90)" text-anchor="middle">-Z" (<tspan font-family="'Liberation Serif', 'DejaVu Serif', serif" font-weight="400">Ω</tspan>)</text>
</g>
<text x="2150" y="1014" font-family="'Liberation Sans', Arial, Helvetica, sans-serif" font-size="117" fill="#111" stroke="#111" stroke-width="2.2" stroke-linejoin="round">f</text>
</g>
</svg>
</body></html>
